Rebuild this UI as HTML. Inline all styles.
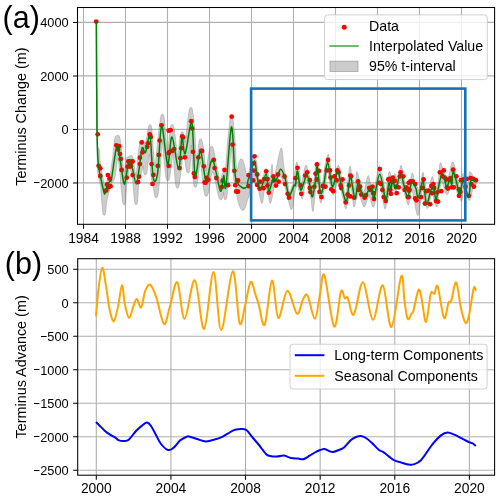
<!DOCTYPE html>
<html><head><meta charset="utf-8"><style>
html,body{margin:0;padding:0;background:#fff;width:500px;height:499px;overflow:hidden}
svg{display:block;will-change:transform;font-family:"Liberation Sans",sans-serif}
</style></head><body>
<svg width="500" height="499" viewBox="0 0 500 499">
<rect width="500" height="499" fill="#fff"/>
<defs><clipPath id="c1"><rect x="77.5" y="7.5" width="417.1" height="216.8"/></clipPath><clipPath id="c2"><rect x="77.7" y="258.7" width="416.90000000000003" height="216.5"/></clipPath></defs>
<path d="M83.50,7.5V224.3M125.50,7.5V224.3M167.50,7.5V224.3M209.50,7.5V224.3M251.50,7.5V224.3M293.50,7.5V224.3M335.50,7.5V224.3M377.50,7.5V224.3M419.50,7.5V224.3M461.50,7.5V224.3M77.5,182.90H494.6M77.5,129.40H494.6M77.5,75.90H494.6M77.5,22.40H494.6" stroke="#b0b0b0" stroke-width="1.1" fill="none"/>
<path d="M96.30,258.7V475.2M170.92,258.7V475.2M245.54,258.7V475.2M320.16,258.7V475.2M394.78,258.7V475.2M469.40,258.7V475.2M77.7,470.30H494.6M77.7,436.80H494.6M77.7,403.30H494.6M77.7,369.80H494.6M77.7,336.30H494.6M77.7,302.80H494.6M77.7,269.30H494.6" stroke="#b0b0b0" stroke-width="1.1" fill="none"/>
<g clip-path="url(#c1)">
<path d="M96.20,22.00 L96.80,22.00 L97.50,125.00 L97.50,147.89 L97.75,147.90 L98.00,147.95 L98.25,148.03 L98.50,148.16 L98.75,148.33 L99.00,148.56 L99.25,148.92 L99.50,149.89 L99.75,156.63 L100.00,160.90 L100.25,162.37 L100.50,163.90 L100.75,165.45 L101.00,167.01 L101.25,168.55 L101.50,170.08 L101.75,171.58 L102.00,173.05 L102.25,174.48 L102.50,175.84 L102.75,177.13 L103.00,178.31 L103.25,179.43 L103.50,180.56 L103.75,181.68 L104.00,182.77 L104.25,183.81 L104.50,184.79 L104.75,185.68 L105.00,186.16 L105.25,185.48 L105.50,184.89 L105.75,184.32 L106.00,183.78 L106.25,182.93 L106.50,182.04 L106.75,181.23 L107.00,180.52 L107.25,179.85 L107.50,179.25 L107.75,178.73 L108.00,178.27 L108.25,177.85 L108.50,177.44 L108.75,177.03 L109.00,176.59 L109.25,176.09 L109.50,175.52 L109.75,174.83 L110.00,174.09 L110.25,173.29 L110.50,172.40 L110.75,170.75 L111.00,168.90 L111.25,167.08 L111.50,165.30 L111.75,163.60 L112.00,162.00 L112.25,160.48 L112.50,158.84 L112.75,156.57 L113.00,154.12 L113.25,151.62 L113.50,149.14 L113.75,146.69 L114.00,144.33 L114.25,142.11 L114.50,140.14 L114.75,138.56 L115.00,137.32 L115.25,136.65 L115.50,136.01 L115.75,135.80 L116.00,135.70 L116.25,135.67 L116.50,135.70 L116.75,135.80 L117.00,136.01 L117.25,135.72 L117.50,135.51 L117.75,135.41 L118.00,135.32 L118.25,135.28 L118.50,135.32 L118.75,135.42 L119.00,135.62 L119.25,135.86 L119.50,136.47 L119.75,137.14 L120.00,138.16 L120.25,139.63 L120.50,141.40 L120.75,143.39 L121.00,145.53 L121.25,147.79 L121.50,150.14 L121.75,152.52 L122.00,154.91 L122.25,157.27 L122.50,159.58 L122.75,161.81 L123.00,163.89 L123.25,166.05 L123.50,168.56 L123.75,170.60 L124.00,172.42 L124.25,172.06 L124.50,170.30 L124.75,168.50 L125.00,166.70 L125.25,164.95 L125.50,163.29 L125.75,161.81 L126.00,160.63 L126.25,159.71 L126.50,158.92 L126.75,158.26 L127.00,157.64 L127.25,157.23 L127.50,156.99 L127.75,156.79 L128.00,156.66 L128.25,156.56 L128.50,156.48 L128.75,156.36 L129.00,156.18 L129.25,155.97 L129.50,155.78 L129.75,155.63 L130.00,155.52 L130.25,155.43 L130.50,155.39 L130.75,155.37 L131.00,155.40 L131.25,155.49 L131.50,155.59 L131.75,155.79 L132.00,156.00 L132.25,156.29 L132.50,156.71 L132.75,157.32 L133.00,157.98 L133.25,158.96 L133.50,160.33 L133.75,162.00 L134.00,163.87 L134.25,165.88 L134.50,167.96 L134.75,169.82 L135.00,170.98 L135.25,172.22 L135.50,173.50 L135.75,174.79 L136.00,176.06 L136.25,174.28 L136.50,172.00 L136.75,169.45 L137.00,166.73 L137.25,163.92 L137.50,161.08 L137.75,158.27 L138.00,155.53 L138.25,152.95 L138.50,150.63 L138.75,148.63 L139.00,147.02 L139.25,145.77 L139.50,144.72 L139.75,143.86 L140.00,143.16 L140.25,142.50 L140.50,141.94 L140.75,141.50 L141.00,141.16 L141.25,140.91 L141.50,140.70 L141.75,140.52 L142.00,140.39 L142.25,140.29 L142.50,140.20 L142.75,140.16 L143.00,140.13 L143.25,140.16 L143.50,140.27 L143.75,140.47 L144.00,140.74 L144.25,141.41 L144.50,142.25 L144.75,143.62 L145.00,145.30 L145.25,144.65 L145.50,143.23 L145.75,141.84 L146.00,140.50 L146.25,139.23 L146.50,138.07 L146.75,137.06 L147.00,135.59 L147.25,133.97 L147.50,132.40 L147.75,130.88 L148.00,129.45 L148.25,128.14 L148.50,127.00 L148.75,126.13 L149.00,125.47 L149.25,125.00 L149.50,124.80 L149.75,124.70 L150.00,124.66 L150.25,124.70 L150.50,124.80 L150.75,124.91 L151.00,125.11 L151.25,125.77 L151.50,126.56 L151.75,128.29 L152.00,131.19 L152.25,135.30 L152.50,139.08 L152.75,141.85 L153.00,145.36 L153.25,149.27 L153.50,151.99 L153.75,154.87 L154.00,157.81 L154.25,160.73 L154.50,163.46 L154.75,165.88 L155.00,166.11 L155.25,164.27 L155.50,162.40 L155.75,160.33 L156.00,157.99 L156.25,155.51 L156.50,152.92 L156.75,150.30 L157.00,147.72 L157.25,145.21 L157.50,142.76 L157.75,140.39 L158.00,138.09 L158.25,135.43 L158.50,132.45 L158.75,130.01 L159.00,128.14 L159.25,126.85 L159.50,125.22 L159.75,123.23 L160.00,121.32 L160.25,119.53 L160.50,117.93 L160.75,116.58 L161.00,115.60 L161.25,114.94 L161.50,114.47 L161.75,114.26 L162.00,114.16 L162.25,114.13 L162.50,114.16 L162.75,114.20 L163.00,114.31 L163.25,114.51 L163.50,115.09 L163.75,115.75 L164.00,116.86 L164.25,118.50 L164.50,120.64 L164.75,123.24 L165.00,126.24 L165.25,129.52 L165.50,132.95 L165.75,136.38 L166.00,138.96 L166.25,141.13 L166.50,143.34 L166.75,145.57 L167.00,147.80 L167.25,150.00 L167.50,152.16 L167.75,151.29 L168.00,148.56 L168.25,145.95 L168.50,143.56 L168.75,141.48 L169.00,139.19 L169.25,136.70 L169.50,134.34 L169.75,132.14 L170.00,130.16 L170.25,128.43 L170.50,127.02 L170.75,126.01 L171.00,125.35 L171.25,124.84 L171.50,124.63 L171.75,124.53 L172.00,124.50 L172.25,124.50 L172.50,124.53 L172.75,124.64 L173.00,124.84 L173.25,125.26 L173.50,125.92 L173.75,126.70 L174.00,127.78 L174.25,129.13 L174.50,130.70 L174.75,132.47 L175.00,134.40 L175.25,136.47 L175.50,138.65 L175.75,140.91 L176.00,143.22 L176.25,145.55 L176.50,147.67 L176.75,149.23 L177.00,150.83 L177.25,152.45 L177.50,154.07 L177.75,155.69 L178.00,157.30 L178.25,157.61 L178.50,153.85 L178.75,149.89 L179.00,146.07 L179.25,142.73 L179.50,140.17 L179.75,138.52 L180.00,137.56 L180.25,136.86 L180.50,135.00 L180.75,133.60 L181.00,132.85 L181.25,132.19 L181.50,131.99 L181.75,131.88 L182.00,131.85 L182.25,131.88 L182.50,131.94 L182.75,132.05 L183.00,132.25 L183.25,132.91 L183.50,133.74 L183.75,135.24 L184.00,136.97 L184.25,137.86 L184.50,138.83 L184.75,140.42 L185.00,142.51 L185.25,142.35 L185.50,140.37 L185.75,138.28 L186.00,136.11 L186.25,133.87 L186.50,131.59 L186.75,129.29 L187.00,126.99 L187.25,124.70 L187.50,122.45 L187.75,120.26 L188.00,118.13 L188.25,116.11 L188.50,114.22 L188.75,112.49 L189.00,110.98 L189.25,109.74 L189.50,108.85 L189.75,108.19 L190.00,107.79 L190.25,107.58 L190.50,107.48 L190.75,107.45 L191.00,107.48 L191.25,107.54 L191.50,107.65 L191.75,107.85 L192.00,108.34 L192.25,109.00 L192.50,109.93 L192.75,111.28 L193.00,113.05 L193.25,115.18 L193.50,117.64 L193.75,120.36 L194.00,123.24 L194.25,124.81 L194.50,127.26 L194.75,130.77 L195.00,134.51 L195.25,137.83 L195.50,142.91 L195.75,149.66 L196.00,157.27 L196.25,160.75 L196.50,159.05 L196.75,157.45 L197.00,155.96 L197.25,154.62 L197.50,153.45 L197.75,152.41 L198.00,149.70 L198.25,147.19 L198.50,144.94 L198.75,143.01 L199.00,141.47 L199.25,140.41 L199.50,139.74 L199.75,139.25 L200.00,139.05 L200.25,138.95 L200.50,138.92 L200.75,138.95 L201.00,139.03 L201.25,139.13 L201.50,139.33 L201.75,139.83 L202.00,140.49 L202.25,141.33 L202.50,142.45 L202.75,143.80 L203.00,145.35 L203.25,147.07 L203.50,148.95 L203.75,150.95 L204.00,153.06 L204.25,155.26 L204.50,157.54 L204.75,159.87 L205.00,162.23 L205.25,164.58 L205.50,166.87 L205.75,168.99 L206.00,170.87 L206.25,169.77 L206.50,168.03 L206.75,166.28 L207.00,164.54 L207.25,162.82 L207.50,161.13 L207.75,159.49 L208.00,157.88 L208.25,156.34 L208.50,154.85 L208.75,153.45 L209.00,152.13 L209.25,150.91 L209.50,149.81 L209.75,148.86 L210.00,148.08 L210.25,147.42 L210.50,146.86 L210.75,146.57 L211.00,146.37 L211.25,146.27 L211.50,146.23 L211.75,146.25 L212.00,146.29 L212.25,146.39 L212.50,146.59 L212.75,146.88 L213.00,147.41 L213.25,148.07 L213.50,148.84 L213.75,149.82 L214.00,150.99 L214.25,152.34 L214.50,153.84 L214.75,155.48 L215.00,157.21 L215.25,159.03 L215.50,160.89 L215.75,162.17 L216.00,163.05 L216.25,164.00 L216.50,164.97 L216.75,165.98 L217.00,167.04 L217.25,168.15 L217.50,169.30 L217.75,170.48 L218.00,171.69 L218.25,172.92 L218.50,174.18 L218.75,175.44 L219.00,176.71 L219.25,177.99 L219.50,179.26 L219.75,180.53 L220.00,181.78 L220.25,183.01 L220.50,181.98 L220.75,180.62 L221.00,179.08 L221.25,177.18 L221.50,175.93 L221.75,174.96 L222.00,174.51 L222.25,173.88 L222.50,173.21 L222.75,172.59 L223.00,172.29 L223.25,172.09 L223.50,171.98 L223.75,171.95 L224.00,171.98 L224.25,172.09 L224.50,172.29 L224.75,172.76 L225.00,173.42 L225.25,172.28 L225.50,169.05 L225.75,165.77 L226.00,162.45 L226.25,159.13 L226.50,155.81 L226.75,152.53 L227.00,149.31 L227.25,146.15 L227.50,143.09 L227.75,140.15 L228.00,137.36 L228.25,134.76 L228.50,132.39 L228.75,130.31 L229.00,128.56 L229.25,125.63 L229.50,122.97 L229.75,120.63 L230.00,118.71 L230.25,117.35 L230.50,116.68 L230.75,116.08 L231.00,115.88 L231.25,115.78 L231.50,115.75 L231.75,115.78 L232.00,115.88 L232.25,116.08 L232.50,116.36 L232.75,117.02 L233.00,118.18 L233.25,120.23 L233.50,123.15 L233.75,126.92 L234.00,128.16 L234.25,129.97 L234.50,132.56 L234.75,135.88 L235.00,139.89 L235.25,144.47 L235.50,149.46 L235.75,154.67 L236.00,159.81 L236.25,164.57 L236.50,168.58 L236.75,171.50 L237.00,171.20 L237.25,170.11 L237.50,168.98 L237.75,167.84 L238.00,166.71 L238.25,165.59 L238.50,164.52 L238.75,163.51 L239.00,162.58 L239.25,161.74 L239.50,161.03 L239.75,160.36 L240.00,159.79 L240.25,159.39 L240.50,159.19 L240.75,159.00 L241.00,158.89 L241.25,158.86 L241.50,158.89 L241.75,158.93 L242.00,159.03 L242.25,159.24 L242.50,159.48 L242.75,159.89 L243.00,160.47 L243.25,161.13 L243.50,161.84 L243.75,162.67 L244.00,163.59 L244.25,164.59 L244.50,165.63 L244.75,166.71 L245.00,167.79 L245.25,168.86 L245.50,169.89 L245.75,170.87 L246.00,171.77 L246.25,172.57 L246.50,173.13 L246.75,173.63 L247.00,174.13 L247.25,174.63 L247.50,175.12 L247.75,175.61 L248.00,175.04 L248.25,174.33 L248.50,173.55 L248.75,172.67 L249.00,171.69 L249.25,170.68 L249.50,169.66 L249.75,168.64 L250.00,168.86 L250.25,167.84 L250.50,166.84 L250.75,165.85 L251.00,164.90 L251.25,163.98 L251.50,163.11 L251.75,162.31 L252.00,160.49 L252.25,158.17 L252.50,156.50 L252.75,155.52 L253.00,155.21 L253.25,155.46 L253.50,156.13 L253.75,157.11 L254.00,158.34 L254.25,159.12 L254.50,159.10 L254.75,159.12 L255.00,159.18 L255.25,159.27 L255.50,159.43 L255.75,159.65 L256.00,159.87 L256.25,160.22 L256.50,160.82 L256.75,161.84 L257.00,163.29 L257.25,165.15 L257.50,167.31 L257.75,169.58 L258.00,171.74 L258.25,173.64 L258.50,175.18 L258.75,176.47 L259.00,177.87 L259.25,179.39 L259.50,180.95 L259.75,182.47 L260.00,183.89 L260.25,185.16 L260.50,185.28 L260.75,184.47 L261.00,183.63 L261.25,182.76 L261.50,181.88 L261.75,180.99 L262.00,180.10 L262.25,179.21 L262.50,178.34 L262.75,177.49 L263.00,176.66 L263.25,175.88 L263.50,175.15 L263.75,174.48 L264.00,173.91 L264.25,173.45 L264.50,173.10 L264.75,172.81 L265.00,172.50 L265.25,170.42 L265.50,169.00 L265.75,168.38 L266.00,168.50 L266.25,169.42 L266.50,170.99 L266.75,172.29 L267.00,172.39 L267.25,172.54 L267.50,172.76 L267.75,173.07 L268.00,173.42 L268.25,174.18 L268.50,175.55 L268.75,177.63 L269.00,180.45 L269.25,183.59 L269.50,184.76 L269.75,183.84 L270.00,182.15 L270.25,179.74 L270.50,177.14 L270.75,174.46 L271.00,171.80 L271.25,169.30 L271.50,167.09 L271.75,165.37 L272.00,164.41 L272.25,164.61 L272.50,166.94 L272.75,171.68 L273.00,175.41 L273.25,175.86 L273.50,175.81 L273.75,175.79 L274.00,175.81 L274.25,175.86 L274.50,175.92 L274.75,175.45 L275.00,174.31 L275.25,173.12 L275.50,171.91 L275.75,170.68 L276.00,169.45 L276.25,168.20 L276.50,166.96 L276.75,165.71 L277.00,164.47 L277.25,163.23 L277.50,162.00 L277.75,160.77 L278.00,159.55 L278.25,158.35 L278.50,157.17 L278.75,156.01 L279.00,154.87 L279.25,153.77 L279.50,152.71 L279.75,151.70 L280.00,150.75 L280.25,149.88 L280.50,149.12 L280.75,148.49 L281.00,148.07 L281.25,147.89 L281.50,147.97 L281.75,148.38 L282.00,149.23 L282.25,150.66 L282.50,152.75 L282.75,155.47 L283.00,158.45 L283.25,161.27 L283.50,163.70 L283.75,165.70 L284.00,167.31 L284.25,168.79 L284.50,170.34 L284.75,171.93 L285.00,172.72 L285.25,173.42 L285.50,174.14 L285.75,174.88 L286.00,175.65 L286.25,176.42 L286.50,177.20 L286.75,178.07 L287.00,179.10 L287.25,180.28 L287.50,181.58 L287.75,182.97 L288.00,184.41 L288.25,185.88 L288.50,187.33 L288.75,188.73 L289.00,190.05 L289.25,191.24 L289.50,192.29 L289.75,191.86 L290.00,191.23 L290.25,190.58 L290.50,189.90 L290.75,189.21 L291.00,188.50 L291.25,187.80 L291.50,187.10 L291.75,186.42 L292.00,185.77 L292.25,185.18 L292.50,184.70 L292.75,184.35 L293.00,183.61 L293.25,182.48 L293.50,181.13 L293.75,179.59 L294.00,177.91 L294.25,176.11 L294.50,174.23 L294.75,172.30 L295.00,170.35 L295.25,168.48 L295.50,166.79 L295.75,165.30 L296.00,164.07 L296.25,163.09 L296.50,162.40 L296.75,162.05 L297.00,162.09 L297.25,162.76 L297.50,164.27 L297.75,166.67 L298.00,169.38 L298.25,169.47 L298.50,169.63 L298.75,169.85 L299.00,170.20 L299.25,170.83 L299.50,172.05 L299.75,173.69 L300.00,175.58 L300.25,177.61 L300.50,179.70 L300.75,181.76 L301.00,183.71 L301.25,184.73 L301.50,183.66 L301.75,182.53 L302.00,181.34 L302.25,180.11 L302.50,178.86 L302.75,177.59 L303.00,176.31 L303.25,175.02 L303.50,173.75 L303.75,172.48 L304.00,171.26 L304.25,170.10 L304.50,169.01 L304.75,168.00 L305.00,167.10 L305.25,166.32 L305.50,165.68 L305.75,165.24 L306.00,165.05 L306.25,165.11 L306.50,165.40 L306.75,165.90 L307.00,166.61 L307.25,167.52 L307.50,168.63 L307.75,169.91 L308.00,171.36 L308.25,172.93 L308.50,173.76 L308.75,174.11 L309.00,174.66 L309.25,175.37 L309.50,176.23 L309.75,177.21 L310.00,178.28 L310.25,179.42 L310.50,180.60 L310.75,181.81 L311.00,183.02 L311.25,184.19 L311.50,185.29 L311.75,186.35 L312.00,187.65 L312.25,189.17 L312.50,189.22 L312.75,187.60 L313.00,185.91 L313.25,184.18 L313.50,182.43 L313.75,180.69 L314.00,178.99 L314.25,177.38 L314.50,175.37 L314.75,172.59 L315.00,169.29 L315.25,166.87 L315.50,166.01 L315.75,165.66 L316.00,165.44 L316.25,163.80 L316.50,162.61 L316.75,161.84 L317.00,161.52 L317.25,161.84 L317.50,162.88 L317.75,164.62 L318.00,165.44 L318.25,165.66 L318.50,165.91 L318.75,166.26 L319.00,167.29 L319.25,169.00 L319.50,171.13 L319.75,173.49 L320.00,175.99 L320.25,178.54 L320.50,181.06 L320.75,183.50 L321.00,185.79 L321.25,187.88 L321.50,187.21 L321.75,186.08 L322.00,184.96 L322.25,183.88 L322.50,182.61 L322.75,181.09 L323.00,179.40 L323.25,177.58 L323.50,175.68 L323.75,173.76 L324.00,171.86 L324.25,170.01 L324.50,168.25 L324.75,166.62 L325.00,165.16 L325.25,163.90 L325.50,162.87 L325.75,162.13 L326.00,161.69 L326.25,161.34 L326.50,160.02 L326.75,158.67 L327.00,157.43 L327.25,156.32 L327.50,155.38 L327.75,154.66 L328.00,154.23 L328.25,154.16 L328.50,154.51 L328.75,155.32 L329.00,156.63 L329.25,158.48 L329.50,160.86 L329.75,162.61 L330.00,163.57 L330.25,164.77 L330.50,166.17 L330.75,167.73 L331.00,169.41 L331.25,171.18 L331.50,173.01 L331.75,174.87 L332.00,176.72 L332.25,178.52 L332.50,180.24 L332.75,181.72 L333.00,180.77 L333.25,179.91 L333.50,179.20 L333.75,178.48 L334.00,177.62 L334.25,176.64 L334.50,175.61 L334.75,174.55 L335.00,173.51 L335.25,172.54 L335.50,171.68 L335.75,170.97 L336.00,170.46 L336.25,170.11 L336.50,169.24 L336.75,168.34 L337.00,167.52 L337.25,166.80 L337.50,166.20 L337.75,165.75 L338.00,165.50 L338.25,165.44 L338.50,165.52 L338.75,165.74 L339.00,166.12 L339.25,166.66 L339.50,167.36 L339.75,168.23 L340.00,169.25 L340.25,170.40 L340.50,171.66 L340.75,172.99 L341.00,174.34 L341.25,175.68 L341.50,176.96 L341.75,178.14 L342.00,179.20 L342.25,180.31 L342.50,181.62 L342.75,183.09 L343.00,184.68 L343.25,186.16 L343.50,187.21 L343.75,188.27 L344.00,189.34 L344.25,190.39 L344.50,191.44 L344.75,192.46 L345.00,193.45 L345.25,194.42 L345.50,195.34 L345.75,196.22 L346.00,195.77 L346.25,193.85 L346.50,191.68 L346.75,189.36 L347.00,186.97 L347.25,184.61 L347.50,182.39 L347.75,180.41 L348.00,178.75 L348.25,177.47 L348.50,175.41 L348.75,172.91 L349.00,170.68 L349.25,168.79 L349.50,167.32 L349.75,166.35 L350.00,165.96 L350.25,166.20 L350.50,166.98 L350.75,168.24 L351.00,169.88 L351.25,171.83 L351.50,174.02 L351.75,175.92 L352.00,176.27 L352.25,176.70 L352.50,177.42 L352.75,178.39 L353.00,179.55 L353.25,180.87 L353.50,182.31 L353.75,183.85 L354.00,185.44 L354.25,187.07 L354.50,188.70 L354.75,190.31 L355.00,188.68 L355.25,185.93 L355.50,182.91 L355.75,179.87 L356.00,177.07 L356.25,174.72 L356.50,172.96 L356.75,171.88 L357.00,171.49 L357.25,171.65 L357.50,172.15 L357.75,172.89 L358.00,173.80 L358.25,174.84 L358.50,175.98 L358.75,177.20 L359.00,178.47 L359.25,179.77 L359.50,181.08 L359.75,181.62 L360.00,181.94 L360.25,182.30 L360.50,182.82 L360.75,183.51 L361.00,184.34 L361.25,185.26 L361.50,186.23 L361.75,187.23 L362.00,188.22 L362.25,189.16 L362.50,190.01 L362.75,190.74 L363.00,191.32 L363.25,191.92 L363.50,192.12 L363.75,191.88 L364.00,191.50 L364.25,190.91 L364.50,190.11 L364.75,189.13 L365.00,188.04 L365.25,186.86 L365.50,185.63 L365.75,184.36 L366.00,183.08 L366.25,181.82 L366.50,180.59 L366.75,179.42 L367.00,178.33 L367.25,177.36 L367.50,176.54 L367.75,175.92 L368.00,175.57 L368.25,175.52 L368.50,175.73 L368.75,176.20 L369.00,176.91 L369.25,177.84 L369.50,178.93 L369.75,180.15 L370.00,181.43 L370.25,182.70 L370.50,183.90 L370.75,184.97 L371.00,185.69 L371.25,185.71 L371.50,185.74 L371.75,185.80 L372.00,185.90 L372.25,186.04 L372.50,186.20 L372.75,186.42 L373.00,186.67 L373.25,187.02 L373.50,187.41 L373.75,187.91 L374.00,188.50 L374.25,189.41 L374.50,188.01 L374.75,186.60 L375.00,185.22 L375.25,183.85 L375.50,182.53 L375.75,181.25 L376.00,180.03 L376.25,178.87 L376.50,177.79 L376.75,176.79 L377.00,175.44 L377.25,173.80 L377.50,172.25 L377.75,170.80 L378.00,169.47 L378.25,168.30 L378.50,167.33 L378.75,166.60 L379.00,166.17 L379.25,166.07 L379.50,166.23 L379.75,166.63 L380.00,167.24 L380.25,168.05 L380.50,169.03 L380.75,170.16 L381.00,171.44 L381.25,172.83 L381.50,173.58 L381.75,173.93 L382.00,174.46 L382.25,175.17 L382.50,176.03 L382.75,177.01 L383.00,178.12 L383.25,179.32 L383.50,180.60 L383.75,181.95 L384.00,183.35 L384.25,184.80 L384.50,186.27 L384.75,187.75 L385.00,189.23 L385.25,190.70 L385.50,192.13 L385.75,193.51 L386.00,191.99 L386.25,189.86 L386.50,187.66 L386.75,185.55 L387.00,183.74 L387.25,182.41 L387.50,180.52 L387.75,178.72 L388.00,177.03 L388.25,175.48 L388.50,174.09 L388.75,172.91 L389.00,172.04 L389.25,171.53 L389.50,171.36 L389.75,171.50 L390.00,171.94 L390.25,172.66 L390.50,173.62 L390.75,174.77 L391.00,176.02 L391.25,177.26 L391.50,177.78 L391.75,177.56 L392.00,177.41 L392.25,177.31 L392.50,177.26 L392.75,177.24 L393.00,177.26 L393.25,177.31 L393.50,177.14 L393.75,176.27 L394.00,175.43 L394.25,174.69 L394.50,174.11 L394.75,173.75 L395.00,173.66 L395.25,173.89 L395.50,174.44 L395.75,175.23 L396.00,176.20 L396.25,177.28 L396.50,178.39 L396.75,179.46 L397.00,178.45 L397.25,177.38 L397.50,176.38 L397.75,175.46 L398.00,174.63 L398.25,173.93 L398.50,173.37 L398.75,172.98 L399.00,172.63 L399.25,172.41 L399.50,172.23 L399.75,170.51 L400.00,168.69 L400.25,167.19 L400.50,166.08 L400.75,165.41 L401.00,165.20 L401.25,165.43 L401.50,165.95 L401.75,166.71 L402.00,167.66 L402.25,168.75 L402.50,169.95 L402.75,171.24 L403.00,172.60 L403.25,174.01 L403.50,175.45 L403.75,176.89 L404.00,178.02 L404.25,179.14 L404.50,180.30 L404.75,181.48 L405.00,182.66 L405.25,183.82 L405.50,184.92 L405.75,185.95 L406.00,186.87 L406.25,187.69 L406.50,188.57 L406.75,189.52 L407.00,190.51 L407.25,191.51 L407.50,192.22 L407.75,191.15 L408.00,190.02 L408.25,188.87 L408.50,187.71 L408.75,186.57 L409.00,185.47 L409.25,184.44 L409.50,183.50 L409.75,182.68 L410.00,182.00 L410.25,181.50 L410.50,180.26 L410.75,178.68 L411.00,177.20 L411.25,175.86 L411.50,174.70 L411.75,173.78 L412.00,173.20 L412.25,172.98 L412.50,173.05 L412.75,173.42 L413.00,174.08 L413.25,174.98 L413.50,176.11 L413.75,177.39 L414.00,178.77 L414.25,180.17 L414.50,181.26 L414.75,181.61 L415.00,181.97 L415.25,182.39 L415.50,182.86 L415.75,183.39 L416.00,183.96 L416.25,184.56 L416.50,185.18 L416.75,185.82 L417.00,186.46 L417.25,187.08 L417.50,187.77 L417.75,188.74 L418.00,190.00 L418.25,191.49 L418.50,191.15 L418.75,189.93 L419.00,188.70 L419.25,187.49 L419.50,186.30 L419.75,185.16 L420.00,184.09 L420.25,183.10 L420.50,182.24 L420.75,181.52 L421.00,180.22 L421.25,178.77 L421.50,177.38 L421.75,176.07 L422.00,174.88 L422.25,173.84 L422.50,172.99 L422.75,172.39 L423.00,172.15 L423.25,172.42 L423.50,173.34 L423.75,175.05 L424.00,177.61 L424.25,180.35 L424.50,180.70 L424.75,181.11 L425.00,181.96 L425.25,183.21 L425.50,184.84 L425.75,186.80 L426.00,189.00 L426.25,191.36 L426.50,193.76 L426.75,194.46 L427.00,193.89 L427.25,193.24 L427.50,192.52 L427.75,191.75 L428.00,190.94 L428.25,190.09 L428.50,189.21 L428.75,188.31 L429.00,187.39 L429.25,186.46 L429.50,185.51 L429.75,184.55 L430.00,183.59 L430.25,182.62 L430.50,181.66 L430.75,180.71 L431.00,179.80 L431.25,178.94 L431.50,178.17 L431.75,177.50 L432.00,177.02 L432.25,176.72 L432.50,176.58 L432.75,176.71 L433.00,177.30 L433.25,178.65 L433.50,180.63 L433.75,182.33 L434.00,183.53 L434.25,184.73 L434.50,185.57 L434.75,185.85 L435.00,186.20 L435.25,186.84 L435.50,187.94 L435.75,189.42 L436.00,191.17 L436.25,190.56 L436.50,188.98 L436.75,187.56 L437.00,186.33 L437.25,185.26 L437.50,184.13 L437.75,182.95 L438.00,181.76 L438.25,180.57 L438.50,179.40 L438.75,176.22 L439.00,172.51 L439.25,169.28 L439.50,166.64 L439.75,164.69 L440.00,163.48 L440.25,162.90 L440.50,162.72 L440.75,162.85 L441.00,163.22 L441.25,163.79 L441.50,164.52 L441.75,165.36 L442.00,166.29 L442.25,167.29 L442.50,168.32 L442.75,169.35 L443.00,170.37 L443.25,171.35 L443.50,171.62 L443.75,171.77 L444.00,171.99 L444.25,172.34 L444.50,172.73 L444.75,173.33 L445.00,174.10 L445.25,175.01 L445.50,176.03 L445.75,177.12 L446.00,178.27 L446.25,179.45 L446.50,180.62 L446.75,181.75 L447.00,181.53 L447.25,181.09 L447.50,180.30 L447.75,179.46 L448.00,178.74 L448.25,177.91 L448.50,176.93 L448.75,175.90 L449.00,174.84 L449.25,173.76 L449.50,172.65 L449.75,171.53 L450.00,170.39 L450.25,169.23 L450.50,168.07 L450.75,166.90 L451.00,165.77 L451.25,164.70 L451.50,163.73 L451.75,162.91 L452.00,162.33 L452.25,162.10 L452.50,162.09 L452.75,162.08 L453.00,162.12 L453.25,162.29 L453.50,162.61 L453.75,163.11 L454.00,163.75 L454.25,164.54 L454.50,165.46 L454.75,166.50 L455.00,167.65 L455.25,168.89 L455.50,170.21 L455.75,171.60 L456.00,173.03 L456.25,174.50 L456.50,175.52 L456.75,176.44 L457.00,177.37 L457.25,178.31 L457.50,179.25 L457.75,180.17 L458.00,181.07 L458.25,182.11 L458.50,183.31 L458.75,184.61 L459.00,185.97 L459.25,187.35 L459.50,188.27 L459.75,187.50 L460.00,186.06 L460.25,184.60 L460.50,183.17 L460.75,181.84 L461.00,180.66 L461.25,179.75 L461.50,179.25 L461.75,178.89 L462.00,178.67 L462.25,177.30 L462.50,175.10 L462.75,173.87 L463.00,173.40 L463.25,173.50 L463.50,173.96 L463.75,174.62 L464.00,175.41 L464.25,176.32 L464.50,177.32 L464.75,178.39 L465.00,179.32 L465.25,180.14 L465.50,181.36 L465.75,182.58 L466.00,183.47 L466.25,184.24 L466.50,184.84 L466.75,185.22 L467.00,185.30 L467.25,184.98 L467.50,184.23 L467.75,183.05 L468.00,181.48 L468.25,179.63 L468.50,177.67 L468.75,175.79 L469.00,174.16 L469.25,172.90 L469.50,172.05 L469.75,171.61 L470.00,171.53 L470.25,171.70 L470.50,171.96 L470.75,172.24 L471.00,172.54 L471.25,172.88 L471.50,173.23 L471.75,173.61 L472.00,174.02 L472.25,174.45 L472.50,174.92 L472.75,175.41 L473.00,175.91 L473.25,176.42 L473.50,176.94 L473.75,177.46 L474.00,177.98 L474.25,178.49 L474.50,178.99 L474.75,179.23 L475.00,179.38 L475.25,179.53 L475.50,179.69 L475.75,179.80 L476.00,179.80 L476.25,179.80 L476.25,184.51 L476.00,184.73 L475.75,184.95 L475.50,185.16 L475.25,185.39 L475.00,185.64 L474.75,185.91 L474.50,186.21 L474.25,186.53 L474.00,186.89 L473.75,187.29 L473.50,187.73 L473.25,188.22 L473.00,188.77 L472.75,189.46 L472.50,190.30 L472.25,191.28 L472.00,192.36 L471.75,193.50 L471.50,194.65 L471.25,195.79 L471.00,196.86 L470.75,197.85 L470.50,198.69 L470.25,199.34 L470.00,199.81 L469.75,200.13 L469.50,200.34 L469.25,200.43 L469.00,200.42 L468.75,200.25 L468.50,199.94 L468.25,199.51 L468.00,198.97 L467.75,198.35 L467.50,197.78 L467.25,197.56 L467.00,197.32 L466.75,196.97 L466.50,196.54 L466.25,195.99 L466.00,195.33 L465.75,194.60 L465.50,193.81 L465.25,192.98 L465.00,192.11 L464.75,191.22 L464.50,190.32 L464.25,189.41 L464.00,188.58 L463.75,188.90 L463.50,189.62 L463.25,190.84 L463.00,192.63 L462.75,194.84 L462.50,197.08 L462.25,198.94 L462.00,200.24 L461.75,201.01 L461.50,201.34 L461.25,201.32 L461.00,201.03 L460.75,200.50 L460.50,199.79 L460.25,198.95 L460.00,198.02 L459.75,197.04 L459.50,196.19 L459.25,196.17 L459.00,196.12 L458.75,196.02 L458.50,195.87 L458.25,195.65 L458.00,195.40 L457.75,195.05 L457.50,194.52 L457.25,193.73 L457.00,192.74 L456.75,191.58 L456.50,190.31 L456.25,188.95 L456.00,187.57 L455.75,186.21 L455.50,184.91 L455.25,183.71 L455.00,182.67 L454.75,181.77 L454.50,180.85 L454.25,179.91 L454.00,178.97 L453.75,180.45 L453.50,183.85 L453.25,184.99 L453.00,185.34 L452.75,185.56 L452.50,185.71 L452.25,185.81 L452.00,185.87 L451.75,185.89 L451.50,185.87 L451.25,185.81 L451.00,185.71 L450.75,185.56 L450.50,185.84 L450.25,186.85 L450.00,187.82 L449.75,188.74 L449.50,189.61 L449.25,190.44 L449.00,191.21 L448.75,191.92 L448.50,192.58 L448.25,193.16 L448.00,193.67 L447.75,194.10 L447.50,194.42 L447.25,194.64 L447.00,194.73 L446.75,194.69 L446.50,194.52 L446.25,194.24 L446.00,193.86 L445.75,193.38 L445.50,192.82 L445.25,192.17 L445.00,191.46 L444.75,190.69 L444.50,189.86 L444.25,188.99 L444.00,188.09 L443.75,187.18 L443.50,186.25 L443.25,185.33 L443.00,184.42 L442.75,183.55 L442.50,182.73 L442.25,181.98 L442.00,181.33 L441.75,180.80 L441.50,181.00 L441.25,182.17 L441.00,183.36 L440.75,184.55 L440.50,185.73 L440.25,186.86 L440.00,187.93 L439.75,189.16 L439.50,190.58 L439.25,192.16 L439.00,193.85 L438.75,195.59 L438.50,198.14 L438.25,200.50 L438.00,202.57 L437.75,204.29 L437.50,205.60 L437.25,206.49 L437.00,206.96 L436.75,207.07 L436.50,206.92 L436.25,206.55 L436.00,206.03 L435.75,205.40 L435.50,204.68 L435.25,203.91 L435.00,203.09 L434.75,202.24 L434.50,201.36 L434.25,200.49 L434.00,199.59 L433.75,198.65 L433.50,197.76 L433.25,196.92 L433.00,196.17 L432.75,195.54 L432.50,195.05 L432.25,194.73 L432.00,194.62 L431.75,194.73 L431.50,195.05 L431.25,195.55 L431.00,196.21 L430.75,197.05 L430.50,198.17 L430.25,199.29 L430.00,200.37 L429.75,201.40 L429.50,202.35 L429.25,203.20 L429.00,204.06 L428.75,205.04 L428.50,205.95 L428.25,206.77 L428.00,207.46 L427.75,208.01 L427.50,208.37 L427.25,208.52 L427.00,208.40 L426.75,207.93 L426.50,207.07 L426.25,205.87 L426.00,205.69 L425.75,205.54 L425.50,205.37 L425.25,205.15 L425.00,204.80 L424.75,204.22 L424.50,203.17 L424.25,201.68 L424.00,199.83 L423.75,197.69 L423.50,195.36 L423.25,192.96 L423.00,190.60 L422.75,188.40 L422.50,187.90 L422.25,189.09 L422.00,190.38 L421.75,192.08 L421.50,193.96 L421.25,195.97 L421.00,198.06 L420.75,200.19 L420.50,202.30 L420.25,204.38 L420.00,206.36 L419.75,208.23 L419.50,209.95 L419.25,211.49 L419.00,212.82 L418.75,213.92 L418.50,214.77 L418.25,215.35 L418.00,215.63 L417.75,215.62 L417.50,215.37 L417.25,214.93 L417.00,214.32 L416.75,213.56 L416.50,212.66 L416.25,211.61 L416.00,210.43 L415.75,209.15 L415.50,207.79 L415.25,206.38 L415.00,204.94 L414.75,203.48 L414.50,202.01 L414.25,200.55 L414.00,199.11 L413.75,197.70 L413.50,196.35 L413.25,195.07 L413.00,193.90 L412.75,192.84 L412.50,191.94 L412.25,191.24 L412.00,190.80 L411.75,190.65 L411.50,190.80 L411.25,191.29 L411.00,192.14 L410.75,193.33 L410.50,194.82 L410.25,196.53 L410.00,198.33 L409.75,200.06 L409.50,201.62 L409.25,202.90 L409.00,203.88 L408.75,204.54 L408.50,204.89 L408.25,204.96 L408.00,204.79 L407.75,204.40 L407.50,203.85 L407.25,203.17 L407.00,202.39 L406.75,201.54 L406.50,200.62 L406.25,199.66 L406.00,198.65 L405.75,197.61 L405.50,196.91 L405.25,196.43 L405.00,195.78 L404.75,194.99 L404.50,194.09 L404.25,193.11 L404.00,192.11 L403.75,191.12 L403.50,190.17 L403.25,189.29 L403.00,188.47 L402.75,187.55 L402.50,186.52 L402.25,185.42 L402.00,184.26 L401.75,183.08 L401.50,181.90 L401.25,180.93 L401.00,180.60 L400.75,180.40 L400.50,180.30 L400.25,180.28 L400.00,180.36 L399.75,181.16 L399.50,182.30 L399.25,183.43 L399.00,184.55 L398.75,185.61 L398.50,186.57 L398.25,187.37 L398.00,187.99 L397.75,188.56 L397.50,189.05 L397.25,189.42 L397.00,189.77 L396.75,190.00 L396.50,190.16 L396.25,190.31 L396.00,190.41 L395.75,190.46 L395.50,190.48 L395.25,190.46 L395.00,190.41 L394.75,190.35 L394.50,190.50 L394.25,190.62 L394.00,190.71 L393.75,190.75 L393.50,190.73 L393.25,190.66 L393.00,190.51 L392.75,190.28 L392.50,189.94 L392.25,190.28 L392.00,190.50 L391.75,190.66 L391.50,190.81 L391.25,190.91 L391.00,190.96 L390.75,190.98 L390.50,190.96 L390.25,190.91 L390.00,190.81 L389.75,190.66 L389.50,190.43 L389.25,191.46 L389.00,193.59 L388.75,195.53 L388.50,197.20 L388.25,198.55 L388.00,199.56 L387.75,200.23 L387.50,200.58 L387.25,200.90 L387.00,201.12 L386.75,202.01 L386.50,203.93 L386.25,205.59 L386.00,206.95 L385.75,207.96 L385.50,208.64 L385.25,208.98 L385.00,209.01 L384.75,208.71 L384.50,208.11 L384.25,207.27 L384.00,206.23 L383.75,205.03 L383.50,203.71 L383.25,202.29 L383.00,200.80 L382.75,199.24 L382.50,197.65 L382.25,196.03 L382.00,194.41 L381.75,192.79 L381.50,191.20 L381.25,189.64 L381.00,188.14 L380.75,186.71 L380.50,185.36 L380.25,184.12 L380.00,183.01 L379.75,182.06 L379.50,181.28 L379.25,180.74 L379.00,181.63 L378.75,182.85 L378.50,184.13 L378.25,185.45 L378.00,186.82 L377.75,188.20 L377.50,189.61 L377.25,191.01 L377.00,192.41 L376.75,193.79 L376.50,195.11 L376.25,196.37 L376.00,197.52 L375.75,198.49 L375.50,199.66 L375.25,201.38 L375.00,202.93 L374.75,204.28 L374.50,205.38 L374.25,206.22 L374.00,206.76 L373.75,207.04 L373.50,207.13 L373.25,207.11 L373.00,207.13 L372.75,207.05 L372.50,206.59 L372.25,205.93 L372.00,205.17 L371.75,204.34 L371.50,203.44 L371.25,202.52 L371.00,201.58 L370.75,200.66 L370.50,199.78 L370.25,198.96 L370.00,198.23 L369.75,197.62 L369.50,197.14 L369.25,196.81 L369.00,196.67 L368.75,196.71 L368.50,196.91 L368.25,197.25 L368.00,197.72 L367.75,198.31 L367.50,198.98 L367.25,199.72 L367.00,200.52 L366.75,201.34 L366.50,202.16 L366.25,202.98 L366.00,203.75 L365.75,204.48 L365.50,205.14 L365.25,205.71 L365.00,206.19 L364.75,206.55 L364.50,206.80 L364.25,206.91 L364.00,206.90 L363.75,206.73 L363.50,206.43 L363.25,206.03 L363.00,205.54 L362.75,204.97 L362.50,204.35 L362.25,203.67 L362.00,202.94 L361.75,202.18 L361.50,201.39 L361.25,200.57 L361.00,199.76 L360.75,198.97 L360.50,198.18 L360.25,197.42 L360.00,196.69 L359.75,195.99 L359.50,195.32 L359.25,194.71 L359.00,194.16 L358.75,193.69 L358.50,193.30 L358.25,193.03 L358.00,192.91 L357.75,194.62 L357.50,196.23 L357.25,197.54 L357.00,198.50 L356.75,199.07 L356.50,199.42 L356.25,199.64 L356.00,199.82 L355.75,200.87 L355.50,202.38 L355.25,203.81 L355.00,205.07 L354.75,206.08 L354.50,206.79 L354.25,207.12 L354.00,207.05 L353.75,206.50 L353.50,205.46 L353.25,204.00 L353.00,202.20 L352.75,200.13 L352.50,197.86 L352.25,195.47 L352.00,193.47 L351.75,191.91 L351.50,190.30 L351.25,188.67 L351.00,187.04 L350.75,185.45 L350.50,183.99 L350.25,186.21 L350.00,188.57 L349.75,190.96 L349.50,193.28 L349.25,195.45 L349.00,197.37 L348.75,198.98 L348.50,200.26 L348.25,201.16 L348.00,201.69 L347.75,202.05 L347.50,202.27 L347.25,202.44 L347.00,204.06 L346.75,205.83 L346.50,207.22 L346.25,208.19 L346.00,208.70 L345.75,208.79 L345.50,208.60 L345.25,208.16 L345.00,207.54 L344.75,206.76 L344.50,205.84 L344.25,204.80 L344.00,203.67 L343.75,202.47 L343.50,201.20 L343.25,199.88 L343.00,198.64 L342.75,197.82 L342.50,196.94 L342.25,196.02 L342.00,195.05 L341.75,194.06 L341.50,193.04 L341.25,191.99 L341.00,190.94 L340.75,189.87 L340.50,188.81 L340.25,187.76 L340.00,186.73 L339.75,185.73 L339.50,184.80 L339.25,183.85 L339.00,182.79 L338.75,181.61 L338.50,180.67 L338.25,180.73 L338.00,180.90 L337.75,181.26 L337.50,181.84 L337.25,182.58 L337.00,183.44 L336.75,184.38 L336.50,185.38 L336.25,186.40 L336.00,187.45 L335.75,188.49 L335.50,189.52 L335.25,190.52 L335.00,191.48 L334.75,192.36 L334.50,193.14 L334.25,193.80 L334.00,194.33 L333.75,194.71 L333.50,194.92 L333.25,194.94 L333.00,194.75 L332.75,194.27 L332.50,193.47 L332.25,192.37 L332.00,191.01 L331.75,189.45 L331.50,188.09 L331.25,187.87 L331.00,187.63 L330.75,187.28 L330.50,186.80 L330.25,185.99 L330.00,184.83 L329.75,183.43 L329.50,181.84 L329.25,180.12 L329.00,178.32 L328.75,176.47 L328.50,174.61 L328.25,172.78 L328.00,171.01 L327.75,171.09 L327.50,171.65 L327.25,172.39 L327.00,173.46 L326.75,175.36 L326.50,177.28 L326.25,179.18 L326.00,181.00 L325.75,182.69 L325.50,184.21 L325.25,185.48 L325.00,186.56 L324.75,187.68 L324.50,188.81 L324.25,189.93 L324.00,191.00 L323.75,192.00 L323.50,192.88 L323.25,193.60 L323.00,194.92 L322.75,196.29 L322.50,197.59 L322.25,198.81 L322.00,199.92 L321.75,200.92 L321.50,201.77 L321.25,202.42 L321.00,202.83 L320.75,202.93 L320.50,202.68 L320.25,202.09 L320.00,201.16 L319.75,199.86 L319.50,198.21 L319.25,196.25 L319.00,194.02 L318.75,192.73 L318.50,191.29 L318.25,189.48 L318.00,187.39 L317.75,185.10 L317.50,182.66 L317.25,181.35 L317.00,181.32 L316.75,182.29 L316.50,184.03 L316.25,185.78 L316.00,187.51 L315.75,189.20 L315.50,190.82 L315.25,192.69 L315.00,195.33 L314.75,198.00 L314.50,200.66 L314.25,203.21 L314.00,205.60 L313.75,207.73 L313.50,209.50 L313.25,210.79 L313.00,211.46 L312.75,211.46 L312.50,210.87 L312.25,209.69 L312.00,207.97 L311.75,205.78 L311.50,203.27 L311.25,200.61 L311.00,198.19 L310.75,197.88 L310.50,197.53 L310.25,196.76 L310.00,195.58 L309.75,194.08 L309.50,192.43 L309.25,190.77 L309.00,189.25 L308.75,187.95 L308.50,186.89 L308.25,185.79 L308.00,184.62 L307.75,183.41 L307.50,182.20 L307.25,181.24 L307.00,180.83 L306.75,180.54 L306.50,180.36 L306.25,180.64 L306.00,181.58 L305.75,182.47 L305.50,183.28 L305.25,183.98 L305.00,184.61 L304.75,185.56 L304.50,187.25 L304.25,189.02 L304.00,190.80 L303.75,192.55 L303.50,194.18 L303.25,195.64 L303.00,196.88 L302.75,197.86 L302.50,198.54 L302.25,198.91 L302.00,198.95 L301.75,198.66 L301.50,198.10 L301.25,197.33 L301.00,196.40 L300.75,195.36 L300.50,194.23 L300.25,193.04 L300.00,191.83 L299.75,191.42 L299.50,191.19 L299.25,190.85 L299.00,190.50 L298.75,189.76 L298.50,188.58 L298.25,187.07 L298.00,185.31 L297.75,183.36 L297.50,181.89 L297.25,184.23 L297.00,185.80 L296.75,186.54 L296.50,186.89 L296.25,187.11 L296.00,187.26 L295.75,187.36 L295.50,188.66 L295.25,190.97 L295.00,192.64 L294.75,194.16 L294.50,195.80 L294.25,197.48 L294.00,199.15 L293.75,200.77 L293.50,202.32 L293.25,203.75 L293.00,205.06 L292.75,206.23 L292.50,207.24 L292.25,208.09 L292.00,208.75 L291.75,209.23 L291.50,209.51 L291.25,209.59 L291.00,209.48 L290.75,209.15 L290.50,208.64 L290.25,207.98 L290.00,207.20 L289.75,206.33 L289.50,205.38 L289.25,204.37 L289.00,203.31 L288.75,202.22 L288.50,201.12 L288.25,200.00 L288.00,198.87 L287.75,197.75 L287.50,196.63 L287.25,195.99 L287.00,195.48 L286.75,194.78 L286.50,193.89 L286.25,192.84 L286.00,191.65 L285.75,190.33 L285.50,188.93 L285.25,187.57 L285.00,186.80 L284.75,186.08 L284.50,185.36 L284.25,184.65 L284.00,183.94 L283.75,183.25 L283.50,182.57 L283.25,181.91 L283.00,181.27 L282.75,180.66 L282.50,180.08 L282.25,179.53 L282.00,179.02 L281.75,178.55 L281.50,178.12 L281.25,177.74 L281.00,177.41 L280.75,177.13 L280.50,176.91 L280.25,176.73 L280.00,176.61 L279.75,176.55 L279.50,176.55 L279.25,176.65 L279.00,177.45 L278.75,178.22 L278.50,178.96 L278.25,179.66 L278.00,180.29 L277.75,180.81 L277.50,181.20 L277.25,181.55 L277.00,181.77 L276.75,181.97 L276.50,182.12 L276.25,182.22 L276.00,182.27 L275.75,182.29 L275.50,182.93 L275.25,183.66 L275.00,184.42 L274.75,185.28 L274.50,186.27 L274.25,187.37 L274.00,188.53 L273.75,189.74 L273.50,190.99 L273.25,192.25 L273.00,193.52 L272.75,194.78 L272.50,196.02 L272.25,197.23 L272.00,198.39 L271.75,199.47 L271.50,200.47 L271.25,201.37 L271.00,202.13 L270.75,202.74 L270.50,203.16 L270.25,203.36 L270.00,203.31 L269.75,202.91 L269.50,202.12 L269.25,200.97 L269.00,199.49 L268.75,197.75 L268.50,195.81 L268.25,193.76 L268.00,192.29 L267.75,192.14 L267.50,191.91 L267.25,191.56 L267.00,191.06 L266.75,189.91 L266.50,187.96 L266.25,185.19 L266.00,182.05 L265.75,180.84 L265.50,181.57 L265.25,182.72 L265.00,184.25 L264.75,186.07 L264.50,188.10 L264.25,190.27 L264.00,192.49 L263.75,194.67 L263.50,196.75 L263.25,198.65 L263.00,200.30 L262.75,201.67 L262.50,202.69 L262.25,203.34 L262.00,203.59 L261.75,203.49 L261.50,203.12 L261.25,202.54 L261.00,201.79 L260.75,200.89 L260.50,199.89 L260.25,198.81 L260.00,197.65 L259.75,196.45 L259.50,195.23 L259.25,193.98 L259.00,192.75 L258.75,191.53 L258.50,190.34 L258.25,189.90 L258.00,189.42 L257.75,188.73 L257.50,187.85 L257.25,186.76 L257.00,185.49 L256.75,184.31 L256.50,183.91 L256.25,183.58 L256.00,183.31 L255.75,183.08 L255.50,182.88 L255.25,182.68 L255.00,182.48 L254.75,182.30 L254.50,182.12 L254.25,181.96 L254.00,181.82 L253.75,181.72 L253.50,181.64 L253.25,181.61 L253.00,181.61 L252.75,181.68 L252.50,181.85 L252.25,182.14 L252.00,182.54 L251.75,183.05 L251.50,183.65 L251.25,184.33 L251.00,185.07 L250.75,185.83 L250.50,186.59 L250.25,187.33 L250.00,188.05 L249.75,193.12 L249.50,194.09 L249.25,195.05 L249.00,195.95 L248.75,196.74 L248.50,197.40 L248.25,197.97 L248.00,198.69 L247.75,199.39 L247.50,200.15 L247.25,200.97 L247.00,201.84 L246.75,202.73 L246.50,203.62 L246.25,204.49 L246.00,205.33 L245.75,206.13 L245.50,206.86 L245.25,207.52 L245.00,208.18 L244.75,208.76 L244.50,209.25 L244.25,209.63 L244.00,209.89 L243.75,210.10 L243.50,210.25 L243.25,210.35 L243.00,210.38 L242.75,210.40 L242.50,210.37 L242.25,210.27 L242.00,210.16 L241.75,209.95 L241.50,209.72 L241.25,209.44 L241.00,209.11 L240.75,208.75 L240.50,208.33 L240.25,207.87 L240.00,207.36 L239.75,206.79 L239.50,206.16 L239.25,205.50 L239.00,204.81 L238.75,204.06 L238.50,203.24 L238.25,202.36 L238.00,201.40 L237.75,200.36 L237.50,199.24 L237.25,198.03 L237.00,196.74 L236.75,195.34 L236.50,193.85 L236.25,192.25 L236.00,190.54 L235.75,188.65 L235.50,186.36 L235.25,183.69 L235.00,182.65 L234.75,182.13 L234.50,181.60 L234.25,181.01 L234.00,180.23 L233.75,179.26 L233.50,178.02 L233.25,176.19 L233.00,173.94 L232.75,171.50 L232.50,168.58 L232.25,164.57 L232.00,159.81 L231.75,154.67 L231.50,149.46 L231.25,146.15 L231.00,149.31 L230.75,152.53 L230.50,155.81 L230.25,159.13 L230.00,162.45 L229.75,165.77 L229.50,169.05 L229.25,172.28 L229.00,175.42 L228.75,178.42 L228.50,181.23 L228.25,183.78 L228.00,185.91 L227.75,187.55 L227.50,190.78 L227.25,193.64 L227.00,195.99 L226.75,197.61 L226.50,198.61 L226.25,199.27 L226.00,199.48 L225.75,199.66 L225.50,199.76 L225.25,199.79 L225.00,199.76 L224.75,199.66 L224.50,199.45 L224.25,198.79 L224.00,197.84 L223.75,195.46 L223.50,192.49 L223.25,194.29 L223.00,195.82 L222.75,197.02 L222.50,197.91 L222.25,198.58 L222.00,199.16 L221.75,199.48 L221.50,199.68 L221.25,199.78 L221.00,199.84 L220.75,199.87 L220.50,199.84 L220.25,199.74 L220.00,199.58 L219.75,199.37 L219.50,199.00 L219.25,198.43 L219.00,197.77 L218.75,197.05 L218.50,196.21 L218.25,195.28 L218.00,194.28 L217.75,193.23 L217.50,192.13 L217.25,191.00 L217.00,189.84 L216.75,188.67 L216.50,187.49 L216.25,186.30 L216.00,185.11 L215.75,183.93 L215.50,182.76 L215.25,181.60 L215.00,180.47 L214.75,179.36 L214.50,178.28 L214.25,177.24 L214.00,176.24 L213.75,175.29 L213.50,174.39 L213.25,173.56 L213.00,172.79 L212.75,172.18 L212.50,171.90 L212.25,172.67 L212.00,173.60 L211.75,174.65 L211.50,175.81 L211.25,177.06 L211.00,178.40 L210.75,179.80 L210.50,181.24 L210.25,182.71 L210.00,184.20 L209.75,185.67 L209.50,187.12 L209.25,188.52 L209.00,189.85 L208.75,191.09 L208.50,192.22 L208.25,193.20 L208.00,194.03 L207.75,194.69 L207.50,195.33 L207.25,195.75 L207.00,195.96 L206.75,196.14 L206.50,196.24 L206.25,196.27 L206.00,196.24 L205.75,196.15 L205.50,196.05 L205.25,195.84 L205.00,195.45 L204.75,194.78 L204.50,194.08 L204.25,193.09 L204.00,191.83 L203.75,190.31 L203.50,188.58 L203.25,186.64 L203.00,184.53 L202.75,182.30 L202.50,179.96 L202.25,177.57 L202.00,175.15 L201.75,172.76 L201.50,170.42 L201.25,168.20 L201.00,166.12 L200.75,164.22 L200.50,162.56 L200.25,162.14 L200.00,163.55 L199.75,165.13 L199.50,166.85 L199.25,168.66 L199.00,170.55 L198.75,172.49 L198.50,174.44 L198.25,176.38 L198.00,178.27 L197.75,180.07 L197.50,181.74 L197.25,183.25 L197.00,184.53 L196.75,185.52 L196.50,186.18 L196.25,186.80 L196.00,187.00 L195.75,187.14 L195.50,187.24 L195.25,187.27 L195.00,187.24 L194.75,187.14 L194.50,186.93 L194.25,186.46 L194.00,185.80 L193.75,184.48 L193.50,182.19 L193.25,178.91 L193.00,175.10 L192.75,173.42 L192.50,170.64 L192.25,166.60 L192.00,161.27 L191.75,154.86 L191.50,147.94 L191.25,144.80 L191.00,149.67 L190.75,154.55 L190.50,159.20 L190.25,163.43 L190.00,167.00 L189.75,169.72 L189.50,171.35 L189.25,172.03 L189.00,172.69 L188.75,172.89 L188.50,172.99 L188.25,173.09 L188.00,173.12 L187.75,173.09 L187.50,172.99 L187.25,172.79 L187.00,172.40 L186.75,171.74 L186.50,170.95 L186.25,169.83 L186.00,168.43 L185.75,166.83 L185.50,165.07 L185.25,163.21 L185.00,161.32 L184.75,159.47 L184.50,157.75 L184.25,156.28 L184.00,155.49 L183.75,155.36 L183.50,155.19 L183.25,154.96 L183.00,154.60 L182.75,155.87 L182.50,158.23 L182.25,160.51 L182.00,162.70 L181.75,164.83 L181.50,166.92 L181.25,169.00 L181.00,171.09 L180.75,173.19 L180.50,175.27 L180.25,177.32 L180.00,179.30 L179.75,181.18 L179.50,182.92 L179.25,184.46 L179.00,185.74 L178.75,186.68 L178.50,187.34 L178.25,187.84 L178.00,188.04 L177.75,188.15 L177.50,188.18 L177.25,188.15 L177.00,188.08 L176.75,187.98 L176.50,187.77 L176.25,187.11 L176.00,186.43 L175.75,185.17 L175.50,183.36 L175.25,181.05 L175.00,178.31 L174.75,175.23 L174.50,171.89 L174.25,168.42 L174.00,164.92 L173.75,161.52 L173.50,158.32 L173.25,155.42 L173.00,152.92 L172.75,153.60 L172.50,155.57 L172.25,157.69 L172.00,159.89 L171.75,162.13 L171.50,164.37 L171.25,166.56 L171.00,168.67 L170.75,170.69 L170.50,172.58 L170.25,174.32 L170.00,175.88 L169.75,177.24 L169.50,178.37 L169.25,179.22 L169.00,179.88 L168.75,180.40 L168.50,180.61 L168.25,180.77 L168.00,180.87 L167.75,180.90 L167.50,180.87 L167.25,180.77 L167.00,180.56 L166.75,180.30 L166.50,179.63 L166.25,178.92 L166.00,177.81 L165.75,176.36 L165.50,174.62 L165.25,172.62 L165.00,170.41 L164.75,168.03 L164.50,165.49 L164.25,162.85 L164.00,160.12 L163.75,157.34 L163.50,154.54 L163.25,151.75 L163.00,149.01 L162.75,146.35 L162.50,143.81 L162.25,141.45 L162.00,141.03 L161.75,144.52 L161.50,148.74 L161.25,153.55 L161.00,158.74 L160.75,164.02 L160.50,169.06 L160.25,173.55 L160.00,177.24 L159.75,179.96 L159.50,182.03 L159.25,184.24 L159.00,186.54 L158.75,188.83 L158.50,191.02 L158.25,192.93 L158.00,194.49 L157.75,195.64 L157.50,196.37 L157.25,197.03 L157.00,197.35 L156.75,197.55 L156.50,197.66 L156.25,197.69 L156.00,197.66 L155.75,197.58 L155.50,197.48 L155.25,197.27 L155.00,196.83 L154.75,196.17 L154.50,195.41 L154.25,194.30 L154.00,192.68 L153.75,190.68 L153.50,188.39 L153.25,185.89 L153.00,183.22 L152.75,182.30 L152.50,181.94 L152.25,181.50 L152.00,180.87 L151.75,180.05 L151.50,179.08 L151.25,178.03 L151.00,176.58 L150.75,174.37 L150.50,171.40 L150.25,167.73 L150.00,163.47 L149.75,158.84 L149.50,154.08 L149.25,154.45 L149.00,156.13 L148.75,157.97 L148.50,159.92 L148.25,161.97 L148.00,164.05 L147.75,166.13 L147.50,168.14 L147.25,170.03 L147.00,171.68 L146.75,173.00 L146.50,173.79 L146.25,174.45 L146.00,174.66 L145.75,174.85 L145.50,174.95 L145.25,174.98 L145.00,174.95 L144.75,174.85 L144.50,174.64 L144.25,174.20 L144.00,173.54 L143.75,172.31 L143.50,170.21 L143.25,167.45 L143.00,165.96 L142.75,167.06 L142.50,168.19 L142.25,169.33 L142.00,170.47 L141.75,171.60 L141.50,172.69 L141.25,173.71 L141.00,174.62 L140.75,175.40 L140.50,176.08 L140.25,176.74 L140.00,177.35 L139.75,178.53 L139.50,180.18 L139.25,181.59 L139.00,182.69 L138.75,184.04 L138.50,187.53 L138.25,191.62 L138.00,195.72 L137.75,199.25 L137.50,201.84 L137.25,203.30 L137.00,203.96 L136.75,204.25 L136.50,204.45 L136.25,204.56 L136.00,204.59 L135.75,204.56 L135.50,204.45 L135.25,204.25 L135.00,203.59 L134.75,202.76 L134.50,201.06 L134.25,198.73 L134.00,195.99 L133.75,193.02 L133.50,189.96 L133.25,186.94 L133.00,184.07 L132.75,181.42 L132.50,179.09 L132.25,177.31 L132.00,176.06 L131.75,174.79 L131.50,173.50 L131.25,172.22 L131.00,171.31 L130.75,170.51 L130.50,169.76 L130.25,169.00 L130.00,168.27 L129.75,167.65 L129.50,168.10 L129.25,169.58 L129.00,171.13 L128.75,172.72 L128.50,174.33 L128.25,175.93 L128.00,177.50 L127.75,179.02 L127.50,180.44 L127.25,181.72 L127.00,182.77 L126.75,183.94 L126.50,187.60 L126.25,192.31 L126.00,197.16 L125.75,200.91 L125.50,203.07 L125.25,203.85 L125.00,204.51 L124.75,204.71 L124.50,204.81 L124.25,204.85 L124.00,204.81 L123.75,204.71 L123.50,204.51 L123.25,204.25 L123.00,203.59 L122.75,202.54 L122.50,200.92 L122.25,198.89 L122.00,196.57 L121.75,194.07 L121.50,191.45 L121.25,188.74 L121.00,185.98 L120.75,183.20 L120.50,180.42 L120.25,177.68 L120.00,174.99 L119.75,172.41 L119.50,169.98 L119.25,167.78 L119.00,165.91 L118.75,164.30 L118.50,162.77 L118.25,161.34 L118.00,160.02 L117.75,158.85 L117.50,158.30 L117.25,159.88 L117.00,161.78 L116.75,163.91 L116.50,166.15 L116.25,168.40 L116.00,170.56 L115.75,172.54 L115.50,174.30 L115.25,175.78 L115.00,176.95 L114.75,177.85 L114.50,178.59 L114.25,179.25 L114.00,179.86 L113.75,180.36 L113.50,180.79 L113.25,181.16 L113.00,181.50 L112.75,181.82 L112.50,182.15 L112.25,182.51 L112.00,182.93 L111.75,183.42 L111.50,184.01 L111.25,184.78 L111.00,185.60 L110.75,186.45 L110.50,187.29 L110.25,188.13 L110.00,188.98 L109.75,189.85 L109.50,190.73 L109.25,191.62 L109.00,192.53 L108.75,193.45 L108.50,194.38 L108.25,195.33 L108.00,196.30 L107.75,197.29 L107.50,198.27 L107.25,199.27 L107.00,200.30 L106.75,201.62 L106.50,203.53 L106.25,206.07 L106.00,209.07 L105.75,211.88 L105.50,213.69 L105.25,214.36 L105.00,214.92 L104.75,215.12 L104.50,215.22 L104.25,215.25 L104.00,215.22 L103.75,215.12 L103.50,214.92 L103.25,214.43 L103.00,213.77 L102.75,212.41 L102.50,210.37 L102.25,207.86 L102.00,205.02 L101.75,201.97 L101.50,198.80 L101.25,195.57 L101.00,192.38 L100.75,189.27 L100.50,186.33 L100.25,184.85 L100.00,183.62 L99.75,182.43 L99.50,181.30 L99.25,180.22 L99.00,179.14 L98.75,178.06 L98.50,176.97 L98.25,175.85 L98.00,174.70 L97.75,173.49 L97.50,172.20 L96.80,140.00 L96.20,30.00Z" fill="#808080" fill-opacity="0.4" stroke="#808080" stroke-opacity="0.45" stroke-width="0.8" stroke-linejoin="round"/>
<g fill="#ff0000"><circle cx="96.2" cy="21.6" r="2.4"/><circle cx="97.7" cy="134.3" r="2.4"/><circle cx="98.6" cy="165.8" r="2.4"/><circle cx="100.3" cy="168.3" r="2.4"/><circle cx="100.3" cy="176.0" r="2.4"/><circle cx="107.9" cy="175.1" r="2.4"/><circle cx="109.6" cy="178.6" r="2.4"/><circle cx="107.1" cy="184.5" r="2.4"/><circle cx="110.5" cy="186.2" r="2.4"/><circle cx="108.8" cy="187.1" r="2.4"/><circle cx="106.2" cy="190.5" r="2.4"/><circle cx="116.4" cy="145.3" r="2.4"/><circle cx="119.0" cy="146.2" r="2.4"/><circle cx="118.1" cy="149.6" r="2.4"/><circle cx="119.9" cy="153.9" r="2.4"/><circle cx="120.7" cy="159.0" r="2.4"/><circle cx="121.6" cy="170.0" r="2.4"/><circle cx="128.4" cy="161.5" r="2.4"/><circle cx="130.0" cy="161.5" r="2.4"/><circle cx="132.6" cy="161.5" r="2.4"/><circle cx="127.5" cy="166.6" r="2.4"/><circle cx="130.0" cy="166.6" r="2.4"/><circle cx="132.6" cy="175.1" r="2.4"/><circle cx="126.7" cy="177.7" r="2.4"/><circle cx="130.9" cy="165.9" r="2.4"/><circle cx="139.0" cy="176.7" r="2.4"/><circle cx="138.1" cy="182.1" r="2.4"/><circle cx="139.9" cy="157.7" r="2.4"/><circle cx="139.9" cy="164.1" r="2.4"/><circle cx="141.7" cy="142.4" r="2.4"/><circle cx="142.6" cy="152.3" r="2.4"/><circle cx="147.1" cy="146.9" r="2.4"/><circle cx="148.0" cy="143.3" r="2.4"/><circle cx="149.8" cy="134.3" r="2.4"/><circle cx="150.7" cy="137.0" r="2.4"/><circle cx="151.6" cy="164.1" r="2.4"/><circle cx="153.4" cy="174.9" r="2.4"/><circle cx="152.5" cy="183.9" r="2.4"/><circle cx="157.9" cy="165.9" r="2.4"/><circle cx="158.8" cy="155.0" r="2.4"/><circle cx="159.7" cy="140.6" r="2.4"/><circle cx="161.5" cy="125.3" r="2.4"/><circle cx="168.7" cy="130.7" r="2.4"/><circle cx="168.7" cy="153.2" r="2.4"/><circle cx="168.7" cy="165.9" r="2.4"/><circle cx="170.5" cy="130.2" r="2.4"/><circle cx="169.6" cy="151.8" r="2.4"/><circle cx="172.3" cy="150.9" r="2.4"/><circle cx="174.1" cy="149.1" r="2.4"/><circle cx="179.5" cy="168.1" r="2.4"/><circle cx="180.4" cy="158.2" r="2.4"/><circle cx="181.3" cy="148.2" r="2.4"/><circle cx="182.2" cy="136.5" r="2.4"/><circle cx="183.1" cy="137.4" r="2.4"/><circle cx="184.9" cy="157.3" r="2.4"/><circle cx="191.2" cy="121.2" r="2.4"/><circle cx="192.1" cy="128.4" r="2.4"/><circle cx="193.0" cy="151.8" r="2.4"/><circle cx="193.9" cy="173.5" r="2.4"/><circle cx="194.8" cy="177.1" r="2.4"/><circle cx="198.4" cy="157.3" r="2.4"/><circle cx="201.1" cy="150.9" r="2.4"/><circle cx="203.8" cy="166.3" r="2.4"/><circle cx="204.7" cy="182.5" r="2.4"/><circle cx="202.0" cy="151.0" r="2.4"/><circle cx="206.5" cy="178.0" r="2.4"/><circle cx="205.6" cy="182.5" r="2.4"/><circle cx="208.3" cy="179.8" r="2.4"/><circle cx="213.7" cy="160.0" r="2.4"/><circle cx="214.6" cy="168.1" r="2.4"/><circle cx="216.4" cy="178.0" r="2.4"/><circle cx="221.8" cy="187.0" r="2.4"/><circle cx="222.7" cy="180.7" r="2.4"/><circle cx="224.5" cy="169.9" r="2.4"/><circle cx="228.1" cy="185.2" r="2.4"/><circle cx="231.7" cy="116.7" r="2.4"/><circle cx="232.6" cy="144.6" r="2.4"/><circle cx="234.4" cy="170.8" r="2.4"/><circle cx="237.1" cy="180.7" r="2.4"/><circle cx="235.3" cy="185.2" r="2.4"/><circle cx="236.2" cy="191.5" r="2.4"/><circle cx="238.0" cy="180.5" r="2.4"/><circle cx="238.0" cy="191.7" r="2.4"/><circle cx="248.7" cy="175.2" r="2.4"/><circle cx="248.7" cy="186.2" r="2.4"/><circle cx="254.5" cy="156.3" r="2.4"/><circle cx="253.9" cy="163.4" r="2.4"/><circle cx="253.9" cy="170.6" r="2.4"/><circle cx="253.2" cy="180.4" r="2.4"/><circle cx="257.1" cy="174.5" r="2.4"/><circle cx="257.1" cy="184.9" r="2.4"/><circle cx="259.7" cy="188.8" r="2.4"/><circle cx="260.4" cy="181.7" r="2.4"/><circle cx="263.6" cy="188.2" r="2.4"/><circle cx="266.2" cy="171.3" r="2.4"/><circle cx="264.3" cy="179.1" r="2.4"/><circle cx="267.5" cy="179.1" r="2.4"/><circle cx="267.5" cy="185.6" r="2.4"/><circle cx="268.8" cy="192.7" r="2.4"/><circle cx="273.4" cy="176.5" r="2.4"/><circle cx="274.0" cy="180.4" r="2.4"/><circle cx="278.0" cy="174.5" r="2.4"/><circle cx="278.6" cy="181.7" r="2.4"/><circle cx="276.0" cy="185.6" r="2.4"/><circle cx="284.5" cy="176.5" r="2.4"/><circle cx="285.1" cy="184.1" r="2.4"/><circle cx="287.7" cy="193.8" r="2.4"/><circle cx="289.0" cy="197.7" r="2.4"/><circle cx="297.5" cy="167.8" r="2.4"/><circle cx="295.5" cy="178.2" r="2.4"/><circle cx="300.7" cy="185.4" r="2.4"/><circle cx="301.3" cy="193.8" r="2.4"/><circle cx="305.2" cy="175.6" r="2.4"/><circle cx="307.2" cy="172.3" r="2.4"/><circle cx="309.8" cy="180.2" r="2.4"/><circle cx="309.8" cy="188.0" r="2.4"/><circle cx="310.4" cy="191.9" r="2.4"/><circle cx="314.3" cy="186.7" r="2.4"/><circle cx="315.6" cy="173.6" r="2.4"/><circle cx="316.9" cy="164.5" r="2.4"/><circle cx="318.9" cy="171.0" r="2.4"/><circle cx="316.9" cy="179.5" r="2.4"/><circle cx="319.5" cy="191.9" r="2.4"/><circle cx="321.5" cy="197.1" r="2.4"/><circle cx="325.4" cy="186.7" r="2.4"/><circle cx="322.8" cy="186.0" r="2.4"/><circle cx="326.7" cy="170.4" r="2.4"/><circle cx="328.0" cy="160.0" r="2.4"/><circle cx="330.0" cy="170.4" r="2.4"/><circle cx="330.6" cy="177.6" r="2.4"/><circle cx="331.3" cy="189.3" r="2.4"/><circle cx="333.2" cy="191.2" r="2.4"/><circle cx="334.5" cy="176.3" r="2.4"/><circle cx="337.3" cy="170.4" r="2.4"/><circle cx="338.6" cy="172.3" r="2.4"/><circle cx="336.7" cy="180.2" r="2.4"/><circle cx="342.5" cy="179.5" r="2.4"/><circle cx="340.6" cy="185.4" r="2.4"/><circle cx="341.2" cy="188.0" r="2.4"/><circle cx="345.8" cy="202.3" r="2.4"/><circle cx="347.7" cy="194.5" r="2.4"/><circle cx="349.0" cy="185.4" r="2.4"/><circle cx="350.3" cy="175.6" r="2.4"/><circle cx="351.0" cy="176.3" r="2.4"/><circle cx="350.3" cy="196.4" r="2.4"/><circle cx="354.2" cy="197.7" r="2.4"/><circle cx="358.1" cy="181.5" r="2.4"/><circle cx="360.1" cy="186.7" r="2.4"/><circle cx="358.8" cy="189.9" r="2.4"/><circle cx="361.4" cy="194.5" r="2.4"/><circle cx="364.6" cy="197.7" r="2.4"/><circle cx="366.0" cy="195.1" r="2.4"/><circle cx="369.2" cy="188.0" r="2.4"/><circle cx="370.5" cy="189.9" r="2.4"/><circle cx="372.5" cy="186.7" r="2.4"/><circle cx="373.3" cy="193.2" r="2.4"/><circle cx="374.0" cy="199.0" r="2.4"/><circle cx="379.8" cy="169.1" r="2.4"/><circle cx="379.2" cy="182.8" r="2.4"/><circle cx="381.1" cy="184.1" r="2.4"/><circle cx="382.4" cy="189.9" r="2.4"/><circle cx="383.7" cy="197.1" r="2.4"/><circle cx="385.7" cy="201.0" r="2.4"/><circle cx="388.3" cy="179.5" r="2.4"/><circle cx="389.6" cy="178.9" r="2.4"/><circle cx="392.8" cy="177.6" r="2.4"/><circle cx="392.2" cy="182.1" r="2.4"/><circle cx="390.2" cy="189.9" r="2.4"/><circle cx="390.9" cy="193.8" r="2.4"/><circle cx="394.8" cy="180.8" r="2.4"/><circle cx="396.1" cy="186.7" r="2.4"/><circle cx="396.7" cy="193.2" r="2.4"/><circle cx="398.7" cy="187.3" r="2.4"/><circle cx="400.0" cy="176.3" r="2.4"/><circle cx="400.6" cy="172.3" r="2.4"/><circle cx="403.3" cy="176.3" r="2.4"/><circle cx="404.6" cy="189.9" r="2.4"/><circle cx="406.5" cy="187.3" r="2.4"/><circle cx="407.8" cy="197.1" r="2.4"/><circle cx="409.1" cy="190.6" r="2.4"/><circle cx="410.4" cy="181.5" r="2.4"/><circle cx="408.7" cy="182.8" r="2.4"/><circle cx="412.6" cy="181.5" r="2.4"/><circle cx="415.2" cy="184.1" r="2.4"/><circle cx="409.3" cy="189.3" r="2.4"/><circle cx="408.7" cy="197.1" r="2.4"/><circle cx="415.2" cy="198.4" r="2.4"/><circle cx="416.5" cy="200.3" r="2.4"/><circle cx="421.0" cy="197.1" r="2.4"/><circle cx="423.6" cy="179.5" r="2.4"/><circle cx="422.3" cy="188.0" r="2.4"/><circle cx="424.9" cy="203.6" r="2.4"/><circle cx="426.2" cy="191.2" r="2.4"/><circle cx="428.2" cy="190.6" r="2.4"/><circle cx="430.1" cy="204.2" r="2.4"/><circle cx="431.4" cy="186.0" r="2.4"/><circle cx="433.4" cy="184.1" r="2.4"/><circle cx="434.0" cy="188.0" r="2.4"/><circle cx="432.1" cy="193.2" r="2.4"/><circle cx="436.0" cy="201.0" r="2.4"/><circle cx="438.0" cy="201.6" r="2.4"/><circle cx="437.3" cy="192.3" r="2.4"/><circle cx="441.2" cy="191.2" r="2.4"/><circle cx="439.9" cy="172.3" r="2.4"/><circle cx="443.8" cy="170.4" r="2.4"/><circle cx="442.5" cy="176.3" r="2.4"/><circle cx="446.4" cy="179.5" r="2.4"/><circle cx="447.1" cy="187.3" r="2.4"/><circle cx="444.7" cy="177.6" r="2.4"/><circle cx="447.9" cy="188.6" r="2.4"/><circle cx="449.9" cy="179.5" r="2.4"/><circle cx="450.5" cy="178.2" r="2.4"/><circle cx="453.1" cy="169.7" r="2.4"/><circle cx="456.4" cy="176.3" r="2.4"/><circle cx="451.8" cy="187.3" r="2.4"/><circle cx="453.8" cy="187.3" r="2.4"/><circle cx="459.0" cy="189.3" r="2.4"/><circle cx="459.0" cy="195.8" r="2.4"/><circle cx="460.3" cy="191.9" r="2.4"/><circle cx="460.9" cy="180.2" r="2.4"/><circle cx="463.5" cy="179.5" r="2.4"/><circle cx="466.8" cy="178.9" r="2.4"/><circle cx="465.5" cy="186.7" r="2.4"/><circle cx="468.7" cy="195.8" r="2.4"/><circle cx="470.7" cy="178.2" r="2.4"/><circle cx="473.3" cy="178.9" r="2.4"/><circle cx="475.9" cy="180.2" r="2.4"/><circle cx="473.9" cy="186.7" r="2.4"/><circle cx="471.3" cy="184.1" r="2.4"/></g>
<path d="M96.30,22.00 C96.33,28.33 96.42,45.33 96.50,60.00 C96.58,74.67 96.70,97.60 96.80,110.00 C96.90,122.40 96.92,126.13 97.10,134.40 C97.28,142.67 97.55,153.58 97.90,159.60 C98.25,165.62 98.60,166.88 99.20,170.50 C99.80,174.12 100.60,177.40 101.50,181.30 C102.40,185.20 103.70,193.00 104.60,193.90 C105.50,194.80 106.07,188.80 106.90,186.70 C107.73,184.60 108.85,182.50 109.60,181.30 C110.35,180.10 110.65,182.82 111.40,179.50 C112.15,176.18 113.13,167.12 114.10,161.40 C115.07,155.68 116.15,145.20 117.20,145.20 C118.25,145.20 119.42,155.68 120.40,161.40 C121.38,167.12 122.35,175.88 123.10,179.50 C123.85,183.12 124.03,185.65 124.90,183.10 C125.77,180.55 127.28,167.82 128.30,164.20 C129.32,160.58 130.27,160.50 131.00,161.40 C131.73,162.30 131.82,165.83 132.70,169.60 C133.58,173.37 135.25,184.00 136.30,184.00 C137.35,184.00 138.02,175.60 139.00,169.60 C139.98,163.60 141.12,150.87 142.20,148.00 C143.28,145.13 144.20,154.42 145.50,152.40 C146.80,150.38 148.72,131.67 150.00,135.90 C151.28,140.13 151.93,171.57 153.20,177.80 C154.47,184.03 156.20,181.93 157.60,173.30 C159.00,164.67 159.93,127.47 161.60,126.00 C163.27,124.53 165.87,162.67 167.60,164.50 C169.33,166.33 170.17,136.25 172.00,137.00 C173.83,137.75 176.95,168.83 178.60,169.00 C180.25,169.17 180.80,140.58 181.90,138.00 C183.00,135.42 183.55,156.07 185.20,153.50 C186.85,150.93 190.15,118.93 191.80,122.60 C193.45,126.27 193.65,170.72 195.10,175.50 C196.55,180.28 198.68,150.55 200.50,151.30 C202.32,152.05 203.98,178.55 206.00,180.00 C208.02,181.45 210.20,158.17 212.60,160.00 C215.00,161.83 218.55,188.42 220.40,191.00 C222.25,193.58 222.78,176.23 223.70,175.50 C224.62,174.77 224.62,194.68 225.90,186.60 C227.18,178.52 229.93,129.60 231.40,127.00 C232.87,124.40 233.78,161.83 234.70,171.00 C235.62,180.17 235.62,179.22 236.90,182.00 C238.18,184.78 240.75,186.93 242.40,187.70 C244.05,188.47 245.87,187.82 246.80,186.60 C247.73,185.38 247.45,182.33 248.00,180.40 C248.55,178.47 249.02,178.27 250.10,175.00 C251.18,171.73 253.33,160.55 254.50,160.80 C255.67,161.05 256.12,171.72 257.10,176.50 C258.08,181.28 258.88,189.93 260.40,189.50 C261.92,189.07 264.80,173.68 266.20,173.90 C267.60,174.12 267.60,190.15 268.80,190.80 C270.00,191.45 272.20,179.53 273.40,177.80 C274.60,176.07 274.80,181.82 276.00,180.40 C277.20,178.98 279.10,169.70 280.60,169.30 C282.10,168.90 283.60,173.63 285.00,178.00 C286.40,182.37 287.50,194.25 289.00,195.50 C290.50,196.75 292.92,187.25 294.00,185.50 C295.08,183.75 294.92,187.42 295.50,185.00 C296.08,182.58 296.67,170.22 297.50,171.00 C298.33,171.78 299.47,187.65 300.50,189.70 C301.53,191.75 302.63,185.83 303.70,183.30 C304.77,180.77 305.83,173.97 306.90,174.50 C307.97,175.03 309.17,182.77 310.10,186.50 C311.03,190.23 311.57,198.23 312.50,196.90 C313.43,195.57 314.90,183.45 315.70,178.50 C316.50,173.55 316.50,164.80 317.30,167.20 C318.10,169.60 319.43,189.95 320.50,192.90 C321.57,195.85 322.50,189.98 323.70,184.90 C324.90,179.82 326.32,162.22 327.70,162.40 C329.08,162.58 330.78,183.07 332.00,186.00 C333.22,188.93 334.00,182.50 335.00,180.00 C336.00,177.50 337.00,170.33 338.00,171.00 C339.00,171.67 339.60,179.00 341.00,184.00 C342.40,189.00 344.85,202.17 346.40,201.00 C347.95,199.83 348.88,177.43 350.30,177.00 C351.72,176.57 353.60,197.43 354.90,198.40 C356.20,199.37 357.02,183.88 358.10,182.80 C359.18,181.72 360.32,189.53 361.40,191.90 C362.48,194.27 363.18,197.65 364.60,197.00 C366.02,196.35 368.58,189.28 369.90,188.00 C371.22,186.72 371.82,187.57 372.50,189.30 C373.18,191.03 372.78,200.90 374.00,198.40 C375.22,195.90 377.85,174.08 379.80,174.30 C381.75,174.52 384.18,198.28 385.70,199.70 C387.22,201.12 388.03,184.53 388.90,182.80 C389.77,181.07 390.25,189.95 390.90,189.30 C391.55,188.65 392.15,179.12 392.80,178.90 C393.45,178.68 394.15,186.70 394.80,188.00 C395.45,189.30 395.73,189.10 396.70,186.70 C397.67,184.30 399.28,173.38 400.60,173.60 C401.92,173.82 403.40,184.20 404.60,188.00 C405.80,191.80 406.58,197.38 407.80,196.40 C409.02,195.42 410.57,183.50 411.90,182.10 C413.23,180.70 414.72,185.40 415.80,188.00 C416.88,190.60 417.20,198.78 418.40,197.70 C419.60,196.62 421.65,180.45 423.00,181.50 C424.35,182.55 425.25,202.33 426.50,204.00 C427.75,205.67 429.33,194.33 430.50,191.50 C431.67,188.67 432.58,185.58 433.50,187.00 C434.42,188.42 435.15,200.05 436.00,200.00 C436.85,199.95 437.52,191.20 438.60,186.70 C439.68,182.20 441.17,173.00 442.50,173.00 C443.83,173.00 445.37,185.72 446.60,186.70 C447.83,187.68 449.03,179.33 449.90,178.90 C450.77,178.47 451.27,185.30 451.80,184.10 C452.33,182.90 452.33,172.13 453.10,171.70 C453.87,171.27 455.32,177.70 456.40,181.50 C457.48,185.30 458.52,194.72 459.60,194.50 C460.68,194.28 462.03,181.72 462.90,180.20 C463.77,178.68 463.83,182.70 464.80,185.40 C465.77,188.10 467.72,197.05 468.70,196.40 C469.68,195.75 470.05,184.20 470.70,181.50 C471.35,178.80 471.85,180.20 472.60,180.20 C473.35,180.20 474.77,181.28 475.20,181.50" stroke="#008000" stroke-width="1.5" fill="none" stroke-linejoin="round"/>
</g>
<rect x="251.1" y="88.6" width="214.2" height="131.8" fill="none" stroke="#1372bc" stroke-width="2.6"/>
<g clip-path="url(#c2)">
<path d="M96.00,316.30 C96.42,311.75 97.45,297.08 98.50,289.00 C99.55,280.92 101.02,268.08 102.30,267.80 C103.58,267.52 104.98,280.35 106.20,287.30 C107.42,294.25 108.33,303.82 109.60,309.50 C110.87,315.18 112.38,321.97 113.80,321.40 C115.22,320.83 116.73,312.12 118.10,306.10 C119.47,300.08 120.87,285.58 122.00,285.30 C123.13,285.02 123.72,298.95 124.90,304.40 C126.08,309.85 127.68,317.72 129.10,318.00 C130.52,318.28 132.12,309.28 133.40,306.10 C134.68,302.92 135.52,298.68 136.80,298.90 C138.08,299.12 139.68,308.77 141.10,307.40 C142.52,306.03 143.75,294.47 145.30,290.70 C146.85,286.93 148.55,283.65 150.40,284.80 C152.25,285.95 154.13,291.08 156.40,297.60 C158.67,304.12 161.73,322.48 164.00,323.90 C166.27,325.32 167.78,313.05 170.00,306.10 C172.22,299.15 174.87,280.08 177.30,282.20 C179.73,284.32 181.68,319.13 184.60,318.80 C187.52,318.47 191.55,278.50 194.80,280.20 C198.05,281.90 200.98,330.37 204.10,329.00 C207.22,327.63 210.65,271.85 213.50,272.00 C216.35,272.15 218.00,330.03 221.20,329.90 C224.40,329.77 229.63,272.33 232.70,271.20 C235.77,270.07 237.55,317.28 239.60,323.10 C241.65,328.92 243.17,312.97 245.00,306.10 C246.83,299.23 248.88,283.90 250.60,281.90 C252.32,279.90 253.95,290.35 255.30,294.10 C256.65,297.85 257.13,299.28 258.70,304.40 C260.27,309.52 262.48,328.78 264.70,324.80 C266.92,320.82 269.73,281.63 272.00,280.50 C274.27,279.37 275.75,316.30 278.30,318.00 C280.85,319.70 284.18,291.42 287.30,290.70 C290.42,289.98 294.38,312.27 297.00,313.70 C299.62,315.13 301.22,302.27 303.00,299.30 C304.78,296.33 305.72,292.65 307.70,295.90 C309.68,299.15 312.85,319.10 314.90,318.80 C316.95,318.50 318.42,301.33 320.00,294.10 C321.58,286.87 322.05,270.00 324.40,275.40 C326.75,280.80 331.35,323.80 334.10,326.50 C336.85,329.20 339.12,296.28 340.90,291.60 C342.68,286.92 343.67,297.35 344.80,298.40 C345.93,299.45 346.20,295.20 347.70,297.90 C349.20,300.60 351.25,317.22 353.80,314.60 C356.35,311.98 359.82,281.35 363.00,282.20 C366.18,283.05 369.62,319.18 372.90,319.70 C376.18,320.22 379.62,284.08 382.70,285.30 C385.78,286.52 388.32,328.52 391.40,327.00 C394.48,325.48 399.03,280.70 401.20,276.20 C403.37,271.70 403.33,292.88 404.40,300.00 C405.47,307.12 406.40,316.65 407.60,318.90 C408.80,321.15 410.63,314.85 411.60,313.50 C412.57,312.15 412.27,314.70 413.40,310.80 C414.53,306.90 417.05,292.20 418.40,290.10 C419.75,288.00 420.23,292.88 421.50,298.20 C422.77,303.52 424.50,322.60 426.00,322.00 C427.50,321.40 429.37,299.47 430.50,294.60 C431.63,289.73 432.12,292.95 432.80,292.80 C433.48,292.65 433.78,294.75 434.60,293.70 C435.42,292.65 436.13,282.45 437.70,286.50 C439.27,290.55 442.20,315.30 444.00,318.00 C445.80,320.70 447.30,305.55 448.50,302.70 C449.70,299.85 449.92,304.28 451.20,300.90 C452.48,297.52 454.55,281.05 456.20,282.40 C457.85,283.75 459.53,302.23 461.10,309.00 C462.67,315.77 464.25,322.10 465.60,323.00 C466.95,323.90 467.85,320.18 469.20,314.40 C470.55,308.62 472.57,292.20 473.70,288.30 C474.83,284.40 475.62,290.55 476.00,291.00" stroke="#ffa500" stroke-width="2" fill="none" stroke-linejoin="round"/>
<path d="M96.00,422.00 C96.50,422.50 97.50,423.50 99.00,425.00 C100.50,426.50 103.17,429.40 105.00,431.00 C106.83,432.60 108.33,433.53 110.00,434.60 C111.67,435.67 113.50,436.43 115.00,437.40 C116.50,438.37 117.50,439.80 119.00,440.40 C120.50,441.00 122.33,441.17 124.00,441.00 C125.67,440.83 127.00,441.07 129.00,439.40 C131.00,437.73 133.83,433.30 136.00,431.00 C138.17,428.70 140.17,427.00 142.00,425.60 C143.83,424.20 145.50,422.53 147.00,422.60 C148.50,422.67 149.50,423.93 151.00,426.00 C152.50,428.07 154.33,432.00 156.00,435.00 C157.67,438.00 159.00,441.50 161.00,444.00 C163.00,446.50 165.83,449.43 168.00,450.00 C170.17,450.57 172.00,448.97 174.00,447.40 C176.00,445.83 178.00,442.33 180.00,440.60 C182.00,438.87 184.50,437.70 186.00,437.00 C187.50,436.30 187.17,436.07 189.00,436.40 C190.83,436.73 194.17,438.17 197.00,439.00 C199.83,439.83 203.00,441.33 206.00,441.40 C209.00,441.47 212.50,440.07 215.00,439.40 C217.50,438.73 218.83,438.40 221.00,437.40 C223.17,436.40 225.67,434.67 228.00,433.40 C230.33,432.13 232.50,430.53 235.00,429.80 C237.50,429.07 241.00,428.87 243.00,429.00 C245.00,429.13 245.33,429.10 247.00,430.60 C248.67,432.10 251.00,435.60 253.00,438.00 C255.00,440.40 256.83,442.33 259.00,445.00 C261.17,447.67 264.17,452.17 266.00,454.00 C267.83,455.83 268.17,455.57 270.00,456.00 C271.83,456.43 274.67,456.67 277.00,456.60 C279.33,456.53 281.67,455.37 284.00,455.60 C286.33,455.83 288.67,457.50 291.00,458.00 C293.33,458.50 295.83,458.43 298.00,458.60 C300.17,458.77 302.00,459.53 304.00,459.00 C306.00,458.47 307.83,456.67 310.00,455.40 C312.17,454.13 314.67,452.47 317.00,451.40 C319.33,450.33 322.00,449.07 324.00,449.00 C326.00,448.93 327.50,450.50 329.00,451.00 C330.50,451.50 331.33,452.17 333.00,452.00 C334.67,451.83 337.17,450.77 339.00,450.00 C340.83,449.23 342.00,449.07 344.00,447.40 C346.00,445.73 349.00,441.73 351.00,440.00 C353.00,438.27 354.33,437.67 356.00,437.00 C357.67,436.33 359.33,435.83 361.00,436.00 C362.67,436.17 364.17,436.83 366.00,438.00 C367.83,439.17 369.83,441.00 372.00,443.00 C374.17,445.00 377.03,448.45 379.00,450.00 C380.97,451.55 381.35,450.63 383.80,452.30 C386.25,453.97 390.77,458.28 393.70,460.00 C396.63,461.72 399.02,461.87 401.40,462.60 C403.78,463.33 405.98,464.10 408.00,464.40 C410.02,464.70 411.30,465.13 413.50,464.40 C415.70,463.67 418.08,463.30 421.20,460.00 C424.32,456.70 428.90,448.70 432.20,444.60 C435.50,440.50 438.43,437.42 441.00,435.40 C443.57,433.38 445.40,432.62 447.60,432.50 C449.80,432.38 451.63,433.60 454.20,434.70 C456.77,435.80 460.43,437.82 463.00,439.10 C465.57,440.38 467.95,441.67 469.60,442.40 C471.25,443.13 471.87,442.88 472.90,443.50 C473.93,444.12 475.32,445.67 475.80,446.10" stroke="#0000ff" stroke-width="2" fill="none" stroke-linejoin="round"/>
</g>
<rect x="77.5" y="7.5" width="417.1" height="216.8" fill="none" stroke="#000" stroke-width="1.05"/>
<rect x="77.7" y="258.7" width="416.90000000000003" height="216.5" fill="none" stroke="#000" stroke-width="1.05"/>
<path d="M83.50,224.3v4.5M125.50,224.3v4.5M167.50,224.3v4.5M209.50,224.3v4.5M251.50,224.3v4.5M293.50,224.3v4.5M335.50,224.3v4.5M377.50,224.3v4.5M419.50,224.3v4.5M461.50,224.3v4.5M77.5,182.90h-4.5M77.5,129.40h-4.5M77.5,75.90h-4.5M77.5,22.40h-4.5M96.30,475.2v4.5M170.92,475.2v4.5M245.54,475.2v4.5M320.16,475.2v4.5M394.78,475.2v4.5M469.40,475.2v4.5M77.7,470.30h-4.5M77.7,436.80h-4.5M77.7,403.30h-4.5M77.7,369.80h-4.5M77.7,336.30h-4.5M77.7,302.80h-4.5M77.7,269.30h-4.5" stroke="#000" stroke-width="1.05" fill="none"/>
<g font-family="Liberation Sans" font-size="13.8" fill="#000">
<text x="83.50" y="242.7" text-anchor="middle">1984</text>
<text x="125.50" y="242.7" text-anchor="middle">1988</text>
<text x="167.50" y="242.7" text-anchor="middle">1992</text>
<text x="209.50" y="242.7" text-anchor="middle">1996</text>
<text x="251.50" y="242.7" text-anchor="middle">2000</text>
<text x="293.50" y="242.7" text-anchor="middle">2004</text>
<text x="335.50" y="242.7" text-anchor="middle">2008</text>
<text x="377.50" y="242.7" text-anchor="middle">2012</text>
<text x="419.50" y="242.7" text-anchor="middle">2016</text>
<text x="461.50" y="242.7" text-anchor="middle">2020</text>
<text x="68.7" y="187.70" text-anchor="end" font-size="12.8">2000</text>
<text x="68.7" y="134.20" text-anchor="end" font-size="12.8">0</text>
<text x="68.7" y="80.70" text-anchor="end" font-size="12.8">2000</text>
<text x="68.7" y="27.20" text-anchor="end" font-size="12.8">4000</text>
<text x="96.30" y="493.3" text-anchor="middle">2000</text>
<text x="170.92" y="493.3" text-anchor="middle">2004</text>
<text x="245.54" y="493.3" text-anchor="middle">2008</text>
<text x="320.16" y="493.3" text-anchor="middle">2012</text>
<text x="394.78" y="493.3" text-anchor="middle">2016</text>
<text x="469.40" y="493.3" text-anchor="middle">2020</text>
<text x="68.7" y="475.10" text-anchor="end" font-size="12.8">2500</text>
<text x="68.7" y="441.60" text-anchor="end" font-size="12.8">2000</text>
<text x="68.7" y="408.10" text-anchor="end" font-size="12.8">1500</text>
<text x="68.7" y="374.60" text-anchor="end" font-size="12.8">1000</text>
<text x="68.7" y="341.10" text-anchor="end" font-size="12.8">500</text>
<text x="68.7" y="307.60" text-anchor="end" font-size="12.8">0</text>
<text x="68.7" y="274.10" text-anchor="end" font-size="12.8">500</text>
</g>
<path d="M33.9,182.50H39.5M33.9,470.50H39.5M33.9,436.50H39.5M33.9,403.50H39.5M33.9,369.50H39.5M41.0,336.50H46.6" stroke="#000" stroke-width="1.1" fill="none"/>
<g font-family="Liberation Sans" font-size="14.4" fill="#000">
<text transform="translate(26.2,116.6) rotate(-90)" text-anchor="middle">Terminus Change (m)</text>
<text transform="translate(25.5,366.9) rotate(-90)" text-anchor="middle">Terminus Advance (m)</text>
</g>
<g font-family="Liberation Sans" font-size="30.5" fill="#000">
<text x="2.6" y="27.5">(a)</text>
<text x="4.8" y="274">(b)</text>
</g>
<rect x="324.6" y="14.9" width="162.7" height="64.7" rx="3" fill="#fff" fill-opacity="0.8" stroke="#d0d0d0" stroke-width="1"/>
<circle cx="344.2" cy="27.2" r="2.5" fill="#ff0000"/>
<path d="M329.4,46H358.8" stroke="#008000" stroke-opacity="0.7" stroke-width="1.6"/>
<rect x="330" y="61.2" width="28" height="10.3" fill="#808080" fill-opacity="0.4" stroke="#808080" stroke-opacity="0.5" stroke-width="1"/>
<g font-family="Liberation Sans" font-size="14.2" fill="#000">
<text x="369" y="30.7">Data</text>
<text x="369" y="50.7">Interpolated Value</text>
<text x="369" y="71">95% t-interval</text>
</g>
<rect x="290" y="344.2" width="197.1" height="44.8" rx="3" fill="#fff" fill-opacity="0.8" stroke="#d0d0d0" stroke-width="1"/>
<path d="M294.8,355.2H324.4" stroke="#0000ff" stroke-width="2"/>
<path d="M294.8,375.8H324.4" stroke="#ffa500" stroke-width="2"/>
<g font-family="Liberation Sans" font-size="14.2" fill="#000">
<text x="334.3" y="360.2">Long-term Components</text>
<text x="334.3" y="380.5">Seasonal Components</text>
</g>
</svg>
</body></html>
